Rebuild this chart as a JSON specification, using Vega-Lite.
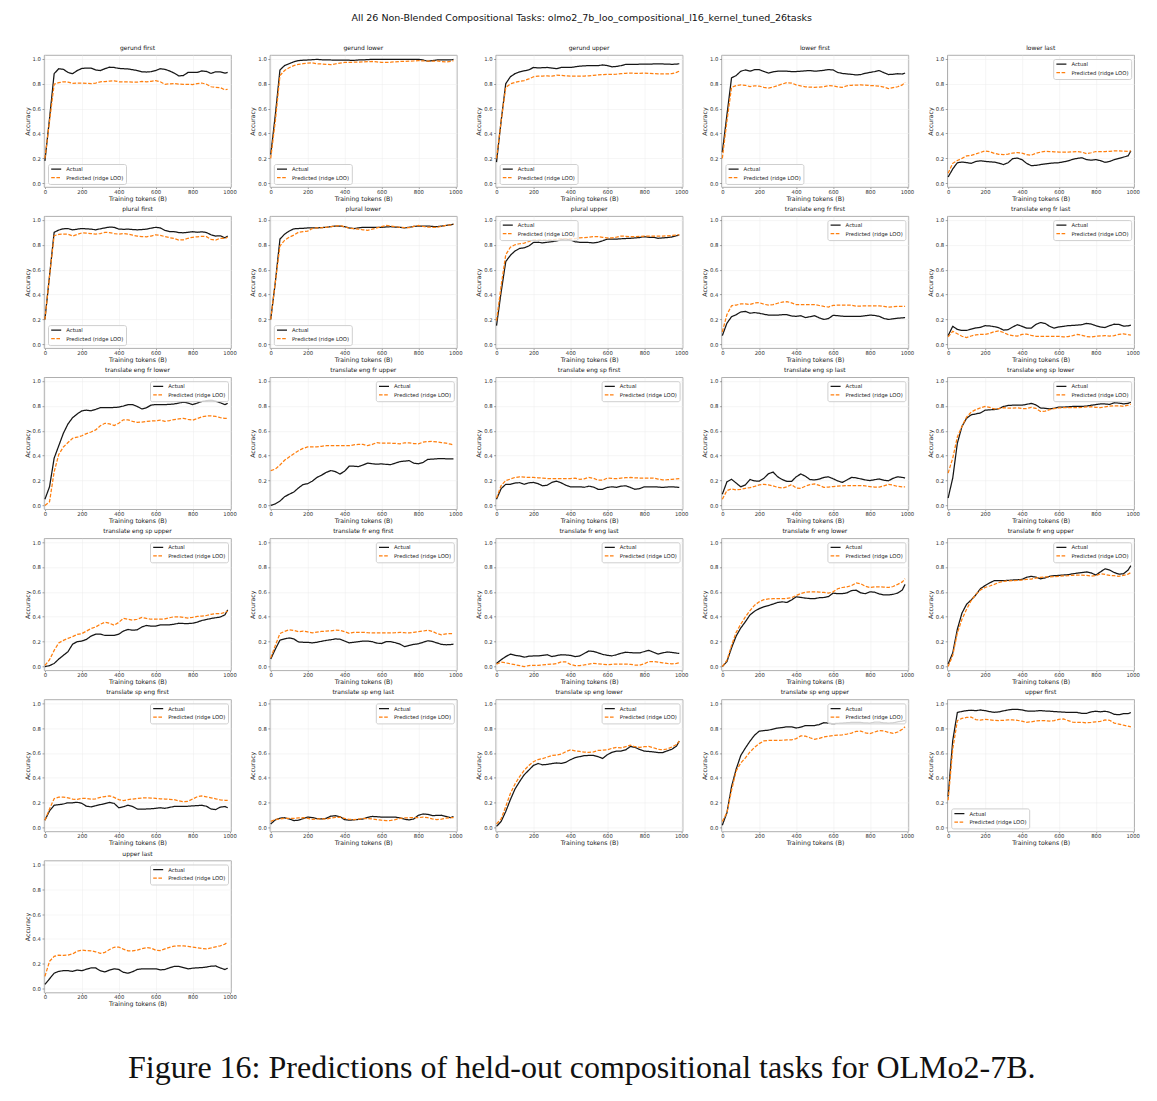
{
"$schema":"https://vega.github.io/schema/vega-lite/v6.json",
"padding":{"left":23,"top":13,"right":5,"bottom":5},
"background":"white",
"title":{"text":"Figure 16: Predictions of held-out compositional tasks for OLMo2-7B.","orient":"bottom","anchor":"middle","font":"Liberation Serif","fontSize":32,"fontWeight":"normal","color":"#111","offset":46},
"data":{"values":[
{"task":"gerund first","x":0,"a":0.18,"p":0.2},{"task":"gerund first","x":25,"a":0.52,"p":0.5},{"task":"gerund first","x":50,"a":0.88,"p":0.795},{"task":"gerund first","x":75,"a":0.92,"p":0.808},{"task":"gerund first","x":100,"a":0.915,"p":0.815},{"task":"gerund first","x":125,"a":0.89,"p":0.812},{"task":"gerund first","x":150,"a":0.88,"p":0.802},{"task":"gerund first","x":175,"a":0.905,"p":0.805},{"task":"gerund first","x":200,"a":0.922,"p":0.805},{"task":"gerund first","x":225,"a":0.925,"p":0.803},{"task":"gerund first","x":250,"a":0.925,"p":0.8},{"task":"gerund first","x":275,"a":0.91,"p":0.805},{"task":"gerund first","x":300,"a":0.905,"p":0.815},{"task":"gerund first","x":325,"a":0.92,"p":0.817},{"task":"gerund first","x":350,"a":0.932,"p":0.82},{"task":"gerund first","x":375,"a":0.93,"p":0.823},{"task":"gerund first","x":400,"a":0.922,"p":0.815},{"task":"gerund first","x":425,"a":0.92,"p":0.813},{"task":"gerund first","x":450,"a":0.918,"p":0.815},{"task":"gerund first","x":475,"a":0.912,"p":0.812},{"task":"gerund first","x":500,"a":0.905,"p":0.812},{"task":"gerund first","x":525,"a":0.895,"p":0.818},{"task":"gerund first","x":550,"a":0.893,"p":0.815},{"task":"gerund first","x":575,"a":0.896,"p":0.818},{"task":"gerund first","x":600,"a":0.905,"p":0.825},{"task":"gerund first","x":625,"a":0.92,"p":0.815},{"task":"gerund first","x":650,"a":0.915,"p":0.795},{"task":"gerund first","x":675,"a":0.902,"p":0.798},{"task":"gerund first","x":700,"a":0.885,"p":0.8},{"task":"gerund first","x":725,"a":0.862,"p":0.797},{"task":"gerund first","x":750,"a":0.865,"p":0.795},{"task":"gerund first","x":775,"a":0.89,"p":0.795},{"task":"gerund first","x":800,"a":0.89,"p":0.793},{"task":"gerund first","x":825,"a":0.89,"p":0.8},{"task":"gerund first","x":850,"a":0.902,"p":0.805},{"task":"gerund first","x":875,"a":0.898,"p":0.795},{"task":"gerund first","x":900,"a":0.882,"p":0.775},{"task":"gerund first","x":925,"a":0.895,"p":0.77},{"task":"gerund first","x":950,"a":0.895,"p":0.768},{"task":"gerund first","x":975,"a":0.885,"p":0.75},{"task":"gerund first","x":990,"a":0.89,"p":0.755},
{"task":"gerund lower","x":0,"a":0.23,"p":0.2},{"task":"gerund lower","x":25,"a":0.55,"p":0.5},{"task":"gerund lower","x":50,"a":0.91,"p":0.865},{"task":"gerund lower","x":75,"a":0.945,"p":0.905},{"task":"gerund lower","x":100,"a":0.96,"p":0.928},{"task":"gerund lower","x":125,"a":0.975,"p":0.945},{"task":"gerund lower","x":150,"a":0.985,"p":0.955},{"task":"gerund lower","x":175,"a":0.988,"p":0.96},{"task":"gerund lower","x":200,"a":0.99,"p":0.965},{"task":"gerund lower","x":225,"a":0.992,"p":0.968},{"task":"gerund lower","x":250,"a":0.995,"p":0.96},{"task":"gerund lower","x":275,"a":0.992,"p":0.958},{"task":"gerund lower","x":300,"a":0.99,"p":0.955},{"task":"gerund lower","x":325,"a":0.99,"p":0.952},{"task":"gerund lower","x":350,"a":0.988,"p":0.958},{"task":"gerund lower","x":375,"a":0.988,"p":0.965},{"task":"gerund lower","x":400,"a":0.988,"p":0.97},{"task":"gerund lower","x":425,"a":0.988,"p":0.97},{"task":"gerund lower","x":450,"a":0.987,"p":0.972},{"task":"gerund lower","x":475,"a":0.99,"p":0.973},{"task":"gerund lower","x":500,"a":0.99,"p":0.975},{"task":"gerund lower","x":525,"a":0.993,"p":0.977},{"task":"gerund lower","x":550,"a":0.995,"p":0.978},{"task":"gerund lower","x":575,"a":0.995,"p":0.975},{"task":"gerund lower","x":600,"a":0.995,"p":0.97},{"task":"gerund lower","x":625,"a":0.995,"p":0.97},{"task":"gerund lower","x":650,"a":0.995,"p":0.972},{"task":"gerund lower","x":675,"a":0.995,"p":0.975},{"task":"gerund lower","x":700,"a":0.995,"p":0.978},{"task":"gerund lower","x":725,"a":0.995,"p":0.978},{"task":"gerund lower","x":750,"a":0.995,"p":0.98},{"task":"gerund lower","x":775,"a":0.995,"p":0.982},{"task":"gerund lower","x":800,"a":0.995,"p":0.985},{"task":"gerund lower","x":825,"a":0.99,"p":0.983},{"task":"gerund lower","x":850,"a":0.98,"p":0.98},{"task":"gerund lower","x":875,"a":0.985,"p":0.98},{"task":"gerund lower","x":900,"a":0.99,"p":0.982},{"task":"gerund lower","x":925,"a":0.99,"p":0.978},{"task":"gerund lower","x":950,"a":0.99,"p":0.975},{"task":"gerund lower","x":975,"a":0.99,"p":0.978},{"task":"gerund lower","x":990,"a":0.995,"p":0.985},
{"task":"gerund upper","x":0,"a":0.17,"p":0.2},{"task":"gerund upper","x":25,"a":0.5,"p":0.5},{"task":"gerund upper","x":50,"a":0.8,"p":0.77},{"task":"gerund upper","x":75,"a":0.855,"p":0.798},{"task":"gerund upper","x":100,"a":0.88,"p":0.81},{"task":"gerund upper","x":125,"a":0.895,"p":0.818},{"task":"gerund upper","x":150,"a":0.903,"p":0.825},{"task":"gerund upper","x":175,"a":0.91,"p":0.838},{"task":"gerund upper","x":200,"a":0.93,"p":0.855},{"task":"gerund upper","x":225,"a":0.926,"p":0.86},{"task":"gerund upper","x":250,"a":0.928,"p":0.861},{"task":"gerund upper","x":275,"a":0.93,"p":0.862},{"task":"gerund upper","x":300,"a":0.925,"p":0.86},{"task":"gerund upper","x":325,"a":0.92,"p":0.868},{"task":"gerund upper","x":350,"a":0.93,"p":0.867},{"task":"gerund upper","x":375,"a":0.93,"p":0.862},{"task":"gerund upper","x":400,"a":0.93,"p":0.86},{"task":"gerund upper","x":425,"a":0.935,"p":0.86},{"task":"gerund upper","x":450,"a":0.94,"p":0.86},{"task":"gerund upper","x":475,"a":0.943,"p":0.861},{"task":"gerund upper","x":500,"a":0.945,"p":0.862},{"task":"gerund upper","x":525,"a":0.944,"p":0.866},{"task":"gerund upper","x":550,"a":0.945,"p":0.87},{"task":"gerund upper","x":575,"a":0.95,"p":0.873},{"task":"gerund upper","x":600,"a":0.945,"p":0.875},{"task":"gerund upper","x":625,"a":0.935,"p":0.875},{"task":"gerund upper","x":650,"a":0.938,"p":0.876},{"task":"gerund upper","x":675,"a":0.945,"p":0.88},{"task":"gerund upper","x":700,"a":0.955,"p":0.883},{"task":"gerund upper","x":725,"a":0.955,"p":0.885},{"task":"gerund upper","x":750,"a":0.955,"p":0.883},{"task":"gerund upper","x":775,"a":0.956,"p":0.883},{"task":"gerund upper","x":800,"a":0.956,"p":0.885},{"task":"gerund upper","x":825,"a":0.957,"p":0.883},{"task":"gerund upper","x":850,"a":0.958,"p":0.88},{"task":"gerund upper","x":875,"a":0.958,"p":0.879},{"task":"gerund upper","x":900,"a":0.958,"p":0.878},{"task":"gerund upper","x":925,"a":0.957,"p":0.879},{"task":"gerund upper","x":950,"a":0.955,"p":0.88},{"task":"gerund upper","x":975,"a":0.957,"p":0.89},{"task":"gerund upper","x":990,"a":0.96,"p":0.9},
{"task":"lower first","x":0,"a":0.25,"p":0.2},{"task":"lower first","x":25,"a":0.55,"p":0.5},{"task":"lower first","x":50,"a":0.847,"p":0.77},{"task":"lower first","x":75,"a":0.865,"p":0.784},{"task":"lower first","x":100,"a":0.9,"p":0.79},{"task":"lower first","x":125,"a":0.91,"p":0.787},{"task":"lower first","x":150,"a":0.9,"p":0.776},{"task":"lower first","x":175,"a":0.912,"p":0.783},{"task":"lower first","x":200,"a":0.912,"p":0.78},{"task":"lower first","x":225,"a":0.898,"p":0.77},{"task":"lower first","x":250,"a":0.885,"p":0.765},{"task":"lower first","x":275,"a":0.895,"p":0.772},{"task":"lower first","x":300,"a":0.9,"p":0.785},{"task":"lower first","x":325,"a":0.9,"p":0.797},{"task":"lower first","x":350,"a":0.9,"p":0.808},{"task":"lower first","x":375,"a":0.897,"p":0.805},{"task":"lower first","x":400,"a":0.897,"p":0.79},{"task":"lower first","x":425,"a":0.9,"p":0.782},{"task":"lower first","x":450,"a":0.903,"p":0.775},{"task":"lower first","x":475,"a":0.905,"p":0.772},{"task":"lower first","x":500,"a":0.9,"p":0.77},{"task":"lower first","x":525,"a":0.903,"p":0.772},{"task":"lower first","x":550,"a":0.907,"p":0.775},{"task":"lower first","x":575,"a":0.913,"p":0.784},{"task":"lower first","x":600,"a":0.91,"p":0.782},{"task":"lower first","x":625,"a":0.89,"p":0.774},{"task":"lower first","x":650,"a":0.882,"p":0.77},{"task":"lower first","x":675,"a":0.878,"p":0.783},{"task":"lower first","x":700,"a":0.875,"p":0.787},{"task":"lower first","x":725,"a":0.87,"p":0.788},{"task":"lower first","x":750,"a":0.873,"p":0.79},{"task":"lower first","x":775,"a":0.883,"p":0.788},{"task":"lower first","x":800,"a":0.89,"p":0.785},{"task":"lower first","x":825,"a":0.897,"p":0.783},{"task":"lower first","x":850,"a":0.905,"p":0.78},{"task":"lower first","x":875,"a":0.888,"p":0.772},{"task":"lower first","x":900,"a":0.873,"p":0.76},{"task":"lower first","x":925,"a":0.875,"p":0.768},{"task":"lower first","x":950,"a":0.88,"p":0.775},{"task":"lower first","x":975,"a":0.877,"p":0.79},{"task":"lower first","x":990,"a":0.885,"p":0.81},
{"task":"lower last","x":0,"a":0.05,"p":0.08},{"task":"lower last","x":25,"a":0.115,"p":0.16},{"task":"lower last","x":50,"a":0.165,"p":0.183},{"task":"lower last","x":75,"a":0.17,"p":0.2},{"task":"lower last","x":100,"a":0.166,"p":0.22},{"task":"lower last","x":125,"a":0.16,"p":0.224},{"task":"lower last","x":150,"a":0.175,"p":0.235},{"task":"lower last","x":175,"a":0.18,"p":0.248},{"task":"lower last","x":200,"a":0.176,"p":0.26},{"task":"lower last","x":225,"a":0.172,"p":0.254},{"task":"lower last","x":250,"a":0.17,"p":0.24},{"task":"lower last","x":275,"a":0.162,"p":0.232},{"task":"lower last","x":300,"a":0.15,"p":0.23},{"task":"lower last","x":325,"a":0.165,"p":0.234},{"task":"lower last","x":350,"a":0.198,"p":0.243},{"task":"lower last","x":375,"a":0.202,"p":0.246},{"task":"lower last","x":400,"a":0.19,"p":0.242},{"task":"lower last","x":425,"a":0.16,"p":0.23},{"task":"lower last","x":450,"a":0.142,"p":0.225},{"task":"lower last","x":475,"a":0.143,"p":0.24},{"task":"lower last","x":500,"a":0.15,"p":0.25},{"task":"lower last","x":525,"a":0.155,"p":0.256},{"task":"lower last","x":550,"a":0.16,"p":0.255},{"task":"lower last","x":575,"a":0.163,"p":0.253},{"task":"lower last","x":600,"a":0.165,"p":0.25},{"task":"lower last","x":625,"a":0.172,"p":0.25},{"task":"lower last","x":650,"a":0.18,"p":0.25},{"task":"lower last","x":675,"a":0.192,"p":0.253},{"task":"lower last","x":700,"a":0.2,"p":0.255},{"task":"lower last","x":725,"a":0.205,"p":0.25},{"task":"lower last","x":750,"a":0.19,"p":0.238},{"task":"lower last","x":775,"a":0.185,"p":0.245},{"task":"lower last","x":800,"a":0.19,"p":0.255},{"task":"lower last","x":825,"a":0.182,"p":0.255},{"task":"lower last","x":850,"a":0.168,"p":0.255},{"task":"lower last","x":875,"a":0.175,"p":0.256},{"task":"lower last","x":900,"a":0.19,"p":0.26},{"task":"lower last","x":925,"a":0.2,"p":0.26},{"task":"lower last","x":950,"a":0.21,"p":0.258},{"task":"lower last","x":975,"a":0.22,"p":0.255},{"task":"lower last","x":990,"a":0.26,"p":0.26},
{"task":"plural first","x":0,"a":0.2,"p":0.2},{"task":"plural first","x":25,"a":0.55,"p":0.55},{"task":"plural first","x":50,"a":0.9,"p":0.873},{"task":"plural first","x":75,"a":0.918,"p":0.883},{"task":"plural first","x":100,"a":0.928,"p":0.886},{"task":"plural first","x":125,"a":0.93,"p":0.885},{"task":"plural first","x":150,"a":0.92,"p":0.87},{"task":"plural first","x":175,"a":0.925,"p":0.882},{"task":"plural first","x":200,"a":0.93,"p":0.895},{"task":"plural first","x":225,"a":0.928,"p":0.893},{"task":"plural first","x":250,"a":0.925,"p":0.89},{"task":"plural first","x":275,"a":0.92,"p":0.885},{"task":"plural first","x":300,"a":0.928,"p":0.89},{"task":"plural first","x":325,"a":0.935,"p":0.9},{"task":"plural first","x":350,"a":0.942,"p":0.898},{"task":"plural first","x":375,"a":0.94,"p":0.89},{"task":"plural first","x":400,"a":0.926,"p":0.885},{"task":"plural first","x":425,"a":0.924,"p":0.89},{"task":"plural first","x":450,"a":0.925,"p":0.885},{"task":"plural first","x":475,"a":0.922,"p":0.877},{"task":"plural first","x":500,"a":0.92,"p":0.87},{"task":"plural first","x":525,"a":0.922,"p":0.865},{"task":"plural first","x":550,"a":0.925,"p":0.864},{"task":"plural first","x":575,"a":0.933,"p":0.87},{"task":"plural first","x":600,"a":0.94,"p":0.88},{"task":"plural first","x":625,"a":0.935,"p":0.876},{"task":"plural first","x":650,"a":0.915,"p":0.865},{"task":"plural first","x":675,"a":0.906,"p":0.857},{"task":"plural first","x":700,"a":0.905,"p":0.85},{"task":"plural first","x":725,"a":0.898,"p":0.838},{"task":"plural first","x":750,"a":0.896,"p":0.84},{"task":"plural first","x":775,"a":0.9,"p":0.852},{"task":"plural first","x":800,"a":0.905,"p":0.86},{"task":"plural first","x":825,"a":0.9,"p":0.864},{"task":"plural first","x":850,"a":0.904,"p":0.868},{"task":"plural first","x":875,"a":0.898,"p":0.865},{"task":"plural first","x":900,"a":0.88,"p":0.843},{"task":"plural first","x":925,"a":0.87,"p":0.838},{"task":"plural first","x":950,"a":0.872,"p":0.852},{"task":"plural first","x":975,"a":0.855,"p":0.85},{"task":"plural first","x":990,"a":0.87,"p":0.86},
{"task":"plural lower","x":0,"a":0.2,"p":0.2},{"task":"plural lower","x":25,"a":0.5,"p":0.5},{"task":"plural lower","x":50,"a":0.845,"p":0.79},{"task":"plural lower","x":75,"a":0.885,"p":0.835},{"task":"plural lower","x":100,"a":0.91,"p":0.86},{"task":"plural lower","x":125,"a":0.928,"p":0.877},{"task":"plural lower","x":150,"a":0.93,"p":0.9},{"task":"plural lower","x":175,"a":0.932,"p":0.905},{"task":"plural lower","x":200,"a":0.935,"p":0.91},{"task":"plural lower","x":225,"a":0.935,"p":0.93},{"task":"plural lower","x":250,"a":0.935,"p":0.935},{"task":"plural lower","x":275,"a":0.938,"p":0.937},{"task":"plural lower","x":300,"a":0.94,"p":0.94},{"task":"plural lower","x":325,"a":0.945,"p":0.945},{"task":"plural lower","x":350,"a":0.95,"p":0.95},{"task":"plural lower","x":375,"a":0.95,"p":0.955},{"task":"plural lower","x":400,"a":0.945,"p":0.945},{"task":"plural lower","x":425,"a":0.935,"p":0.932},{"task":"plural lower","x":450,"a":0.93,"p":0.93},{"task":"plural lower","x":475,"a":0.935,"p":0.925},{"task":"plural lower","x":500,"a":0.94,"p":0.92},{"task":"plural lower","x":525,"a":0.94,"p":0.916},{"task":"plural lower","x":550,"a":0.94,"p":0.925},{"task":"plural lower","x":575,"a":0.94,"p":0.935},{"task":"plural lower","x":600,"a":0.94,"p":0.945},{"task":"plural lower","x":625,"a":0.943,"p":0.955},{"task":"plural lower","x":650,"a":0.945,"p":0.95},{"task":"plural lower","x":675,"a":0.942,"p":0.946},{"task":"plural lower","x":700,"a":0.94,"p":0.94},{"task":"plural lower","x":725,"a":0.935,"p":0.937},{"task":"plural lower","x":750,"a":0.94,"p":0.937},{"task":"plural lower","x":775,"a":0.947,"p":0.947},{"task":"plural lower","x":800,"a":0.95,"p":0.955},{"task":"plural lower","x":825,"a":0.95,"p":0.947},{"task":"plural lower","x":850,"a":0.95,"p":0.942},{"task":"plural lower","x":875,"a":0.947,"p":0.94},{"task":"plural lower","x":900,"a":0.945,"p":0.94},{"task":"plural lower","x":925,"a":0.95,"p":0.947},{"task":"plural lower","x":950,"a":0.955,"p":0.955},{"task":"plural lower","x":975,"a":0.96,"p":0.96},{"task":"plural lower","x":990,"a":0.965,"p":0.965},
{"task":"plural upper","x":0,"a":0.15,"p":0.19},{"task":"plural upper","x":25,"a":0.42,"p":0.47},{"task":"plural upper","x":50,"a":0.665,"p":0.72},{"task":"plural upper","x":75,"a":0.715,"p":0.78},{"task":"plural upper","x":100,"a":0.75,"p":0.8},{"task":"plural upper","x":125,"a":0.77,"p":0.808},{"task":"plural upper","x":150,"a":0.775,"p":0.813},{"task":"plural upper","x":175,"a":0.79,"p":0.826},{"task":"plural upper","x":200,"a":0.818,"p":0.84},{"task":"plural upper","x":225,"a":0.82,"p":0.84},{"task":"plural upper","x":250,"a":0.815,"p":0.84},{"task":"plural upper","x":275,"a":0.82,"p":0.84},{"task":"plural upper","x":300,"a":0.825,"p":0.84},{"task":"plural upper","x":325,"a":0.83,"p":0.845},{"task":"plural upper","x":350,"a":0.842,"p":0.85},{"task":"plural upper","x":375,"a":0.845,"p":0.85},{"task":"plural upper","x":400,"a":0.84,"p":0.85},{"task":"plural upper","x":425,"a":0.824,"p":0.85},{"task":"plural upper","x":450,"a":0.82,"p":0.855},{"task":"plural upper","x":475,"a":0.82,"p":0.858},{"task":"plural upper","x":500,"a":0.818,"p":0.86},{"task":"plural upper","x":525,"a":0.815,"p":0.865},{"task":"plural upper","x":550,"a":0.82,"p":0.865},{"task":"plural upper","x":575,"a":0.832,"p":0.86},{"task":"plural upper","x":600,"a":0.845,"p":0.855},{"task":"plural upper","x":625,"a":0.845,"p":0.855},{"task":"plural upper","x":650,"a":0.845,"p":0.862},{"task":"plural upper","x":675,"a":0.848,"p":0.87},{"task":"plural upper","x":700,"a":0.85,"p":0.868},{"task":"plural upper","x":725,"a":0.852,"p":0.865},{"task":"plural upper","x":750,"a":0.855,"p":0.865},{"task":"plural upper","x":775,"a":0.858,"p":0.867},{"task":"plural upper","x":800,"a":0.865,"p":0.87},{"task":"plural upper","x":825,"a":0.86,"p":0.87},{"task":"plural upper","x":850,"a":0.86,"p":0.87},{"task":"plural upper","x":875,"a":0.852,"p":0.87},{"task":"plural upper","x":900,"a":0.855,"p":0.87},{"task":"plural upper","x":925,"a":0.858,"p":0.872},{"task":"plural upper","x":950,"a":0.862,"p":0.875},{"task":"plural upper","x":975,"a":0.872,"p":0.878},{"task":"plural upper","x":990,"a":0.88,"p":0.88},
{"task":"translate eng fr first","x":0,"a":0.07,"p":0.1},{"task":"translate eng fr first","x":25,"a":0.17,"p":0.24},{"task":"translate eng fr first","x":50,"a":0.222,"p":0.31},{"task":"translate eng fr first","x":75,"a":0.238,"p":0.316},{"task":"translate eng fr first","x":100,"a":0.26,"p":0.325},{"task":"translate eng fr first","x":125,"a":0.265,"p":0.325},{"task":"translate eng fr first","x":150,"a":0.25,"p":0.32},{"task":"translate eng fr first","x":175,"a":0.255,"p":0.332},{"task":"translate eng fr first","x":200,"a":0.25,"p":0.335},{"task":"translate eng fr first","x":225,"a":0.242,"p":0.322},{"task":"translate eng fr first","x":250,"a":0.235,"p":0.316},{"task":"translate eng fr first","x":275,"a":0.235,"p":0.32},{"task":"translate eng fr first","x":300,"a":0.235,"p":0.33},{"task":"translate eng fr first","x":325,"a":0.238,"p":0.34},{"task":"translate eng fr first","x":350,"a":0.238,"p":0.343},{"task":"translate eng fr first","x":375,"a":0.228,"p":0.333},{"task":"translate eng fr first","x":400,"a":0.225,"p":0.32},{"task":"translate eng fr first","x":425,"a":0.23,"p":0.32},{"task":"translate eng fr first","x":450,"a":0.215,"p":0.32},{"task":"translate eng fr first","x":475,"a":0.222,"p":0.32},{"task":"translate eng fr first","x":500,"a":0.23,"p":0.32},{"task":"translate eng fr first","x":525,"a":0.213,"p":0.312},{"task":"translate eng fr first","x":550,"a":0.2,"p":0.305},{"task":"translate eng fr first","x":575,"a":0.207,"p":0.3},{"task":"translate eng fr first","x":600,"a":0.233,"p":0.313},{"task":"translate eng fr first","x":625,"a":0.23,"p":0.315},{"task":"translate eng fr first","x":650,"a":0.226,"p":0.315},{"task":"translate eng fr first","x":675,"a":0.225,"p":0.315},{"task":"translate eng fr first","x":700,"a":0.225,"p":0.315},{"task":"translate eng fr first","x":725,"a":0.225,"p":0.307},{"task":"translate eng fr first","x":750,"a":0.225,"p":0.308},{"task":"translate eng fr first","x":775,"a":0.23,"p":0.31},{"task":"translate eng fr first","x":800,"a":0.235,"p":0.31},{"task":"translate eng fr first","x":825,"a":0.232,"p":0.31},{"task":"translate eng fr first","x":850,"a":0.225,"p":0.31},{"task":"translate eng fr first","x":875,"a":0.208,"p":0.305},{"task":"translate eng fr first","x":900,"a":0.2,"p":0.3},{"task":"translate eng fr first","x":925,"a":0.205,"p":0.302},{"task":"translate eng fr first","x":950,"a":0.21,"p":0.305},{"task":"translate eng fr first","x":975,"a":0.213,"p":0.305},{"task":"translate eng fr first","x":990,"a":0.215,"p":0.305},
{"task":"translate eng fr last","x":0,"a":0.07,"p":0.06},{"task":"translate eng fr last","x":25,"a":0.145,"p":0.105},{"task":"translate eng fr last","x":50,"a":0.12,"p":0.085},{"task":"translate eng fr last","x":75,"a":0.112,"p":0.065},{"task":"translate eng fr last","x":100,"a":0.112,"p":0.055},{"task":"translate eng fr last","x":125,"a":0.122,"p":0.067},{"task":"translate eng fr last","x":150,"a":0.132,"p":0.077},{"task":"translate eng fr last","x":175,"a":0.137,"p":0.08},{"task":"translate eng fr last","x":200,"a":0.15,"p":0.08},{"task":"translate eng fr last","x":225,"a":0.148,"p":0.088},{"task":"translate eng fr last","x":250,"a":0.142,"p":0.102},{"task":"translate eng fr last","x":275,"a":0.133,"p":0.108},{"task":"translate eng fr last","x":300,"a":0.115,"p":0.095},{"task":"translate eng fr last","x":325,"a":0.118,"p":0.078},{"task":"translate eng fr last","x":350,"a":0.14,"p":0.07},{"task":"translate eng fr last","x":375,"a":0.158,"p":0.066},{"task":"translate eng fr last","x":400,"a":0.145,"p":0.08},{"task":"translate eng fr last","x":425,"a":0.13,"p":0.082},{"task":"translate eng fr last","x":450,"a":0.13,"p":0.072},{"task":"translate eng fr last","x":475,"a":0.16,"p":0.065},{"task":"translate eng fr last","x":500,"a":0.175,"p":0.065},{"task":"translate eng fr last","x":525,"a":0.168,"p":0.065},{"task":"translate eng fr last","x":550,"a":0.145,"p":0.065},{"task":"translate eng fr last","x":575,"a":0.13,"p":0.065},{"task":"translate eng fr last","x":600,"a":0.14,"p":0.065},{"task":"translate eng fr last","x":625,"a":0.145,"p":0.06},{"task":"translate eng fr last","x":650,"a":0.15,"p":0.063},{"task":"translate eng fr last","x":675,"a":0.152,"p":0.07},{"task":"translate eng fr last","x":700,"a":0.155,"p":0.08},{"task":"translate eng fr last","x":725,"a":0.158,"p":0.073},{"task":"translate eng fr last","x":750,"a":0.168,"p":0.063},{"task":"translate eng fr last","x":775,"a":0.163,"p":0.06},{"task":"translate eng fr last","x":800,"a":0.15,"p":0.065},{"task":"translate eng fr last","x":825,"a":0.14,"p":0.068},{"task":"translate eng fr last","x":850,"a":0.135,"p":0.07},{"task":"translate eng fr last","x":875,"a":0.15,"p":0.066},{"task":"translate eng fr last","x":900,"a":0.162,"p":0.07},{"task":"translate eng fr last","x":925,"a":0.16,"p":0.08},{"task":"translate eng fr last","x":950,"a":0.147,"p":0.085},{"task":"translate eng fr last","x":975,"a":0.148,"p":0.078},{"task":"translate eng fr last","x":990,"a":0.155,"p":0.075},
{"task":"translate eng fr lower","x":0,"a":0.05,"p":0.0},{"task":"translate eng fr lower","x":25,"a":0.15,"p":0.03},{"task":"translate eng fr lower","x":50,"a":0.38,"p":0.27},{"task":"translate eng fr lower","x":75,"a":0.48,"p":0.41},{"task":"translate eng fr lower","x":100,"a":0.58,"p":0.47},{"task":"translate eng fr lower","x":125,"a":0.655,"p":0.505},{"task":"translate eng fr lower","x":150,"a":0.705,"p":0.54},{"task":"translate eng fr lower","x":175,"a":0.735,"p":0.548},{"task":"translate eng fr lower","x":200,"a":0.76,"p":0.56},{"task":"translate eng fr lower","x":225,"a":0.765,"p":0.577},{"task":"translate eng fr lower","x":250,"a":0.76,"p":0.59},{"task":"translate eng fr lower","x":275,"a":0.772,"p":0.607},{"task":"translate eng fr lower","x":300,"a":0.785,"p":0.64},{"task":"translate eng fr lower","x":325,"a":0.785,"p":0.66},{"task":"translate eng fr lower","x":350,"a":0.785,"p":0.655},{"task":"translate eng fr lower","x":375,"a":0.787,"p":0.642},{"task":"translate eng fr lower","x":400,"a":0.79,"p":0.66},{"task":"translate eng fr lower","x":425,"a":0.798,"p":0.688},{"task":"translate eng fr lower","x":450,"a":0.81,"p":0.688},{"task":"translate eng fr lower","x":475,"a":0.81,"p":0.675},{"task":"translate eng fr lower","x":500,"a":0.795,"p":0.668},{"task":"translate eng fr lower","x":525,"a":0.775,"p":0.67},{"task":"translate eng fr lower","x":550,"a":0.785,"p":0.675},{"task":"translate eng fr lower","x":575,"a":0.806,"p":0.678},{"task":"translate eng fr lower","x":600,"a":0.81,"p":0.68},{"task":"translate eng fr lower","x":625,"a":0.81,"p":0.685},{"task":"translate eng fr lower","x":650,"a":0.81,"p":0.675},{"task":"translate eng fr lower","x":675,"a":0.812,"p":0.682},{"task":"translate eng fr lower","x":700,"a":0.815,"p":0.69},{"task":"translate eng fr lower","x":725,"a":0.822,"p":0.695},{"task":"translate eng fr lower","x":750,"a":0.83,"p":0.7},{"task":"translate eng fr lower","x":775,"a":0.822,"p":0.692},{"task":"translate eng fr lower","x":800,"a":0.81,"p":0.685},{"task":"translate eng fr lower","x":825,"a":0.822,"p":0.698},{"task":"translate eng fr lower","x":850,"a":0.835,"p":0.712},{"task":"translate eng fr lower","x":875,"a":0.842,"p":0.718},{"task":"translate eng fr lower","x":900,"a":0.845,"p":0.72},{"task":"translate eng fr lower","x":925,"a":0.838,"p":0.716},{"task":"translate eng fr lower","x":950,"a":0.825,"p":0.705},{"task":"translate eng fr lower","x":975,"a":0.81,"p":0.7},{"task":"translate eng fr lower","x":990,"a":0.82,"p":0.7},
{"task":"translate eng fr upper","x":0,"a":0.0,"p":0.28},{"task":"translate eng fr upper","x":25,"a":0.013,"p":0.292},{"task":"translate eng fr upper","x":50,"a":0.035,"p":0.325},{"task":"translate eng fr upper","x":75,"a":0.07,"p":0.363},{"task":"translate eng fr upper","x":100,"a":0.09,"p":0.39},{"task":"translate eng fr upper","x":125,"a":0.108,"p":0.415},{"task":"translate eng fr upper","x":150,"a":0.14,"p":0.44},{"task":"translate eng fr upper","x":175,"a":0.168,"p":0.458},{"task":"translate eng fr upper","x":200,"a":0.175,"p":0.47},{"task":"translate eng fr upper","x":225,"a":0.195,"p":0.47},{"task":"translate eng fr upper","x":250,"a":0.225,"p":0.47},{"task":"translate eng fr upper","x":275,"a":0.243,"p":0.475},{"task":"translate eng fr upper","x":300,"a":0.265,"p":0.48},{"task":"translate eng fr upper","x":325,"a":0.28,"p":0.48},{"task":"translate eng fr upper","x":350,"a":0.272,"p":0.48},{"task":"translate eng fr upper","x":375,"a":0.252,"p":0.48},{"task":"translate eng fr upper","x":400,"a":0.275,"p":0.48},{"task":"translate eng fr upper","x":425,"a":0.315,"p":0.48},{"task":"translate eng fr upper","x":450,"a":0.315,"p":0.487},{"task":"translate eng fr upper","x":475,"a":0.312,"p":0.49},{"task":"translate eng fr upper","x":500,"a":0.325,"p":0.49},{"task":"translate eng fr upper","x":525,"a":0.34,"p":0.48},{"task":"translate eng fr upper","x":550,"a":0.335,"p":0.49},{"task":"translate eng fr upper","x":575,"a":0.331,"p":0.505},{"task":"translate eng fr upper","x":600,"a":0.334,"p":0.5},{"task":"translate eng fr upper","x":625,"a":0.33,"p":0.5},{"task":"translate eng fr upper","x":650,"a":0.328,"p":0.5},{"task":"translate eng fr upper","x":675,"a":0.34,"p":0.498},{"task":"translate eng fr upper","x":700,"a":0.352,"p":0.495},{"task":"translate eng fr upper","x":725,"a":0.356,"p":0.503},{"task":"translate eng fr upper","x":750,"a":0.36,"p":0.502},{"task":"translate eng fr upper","x":775,"a":0.34,"p":0.497},{"task":"translate eng fr upper","x":800,"a":0.335,"p":0.495},{"task":"translate eng fr upper","x":825,"a":0.345,"p":0.508},{"task":"translate eng fr upper","x":850,"a":0.37,"p":0.513},{"task":"translate eng fr upper","x":875,"a":0.372,"p":0.514},{"task":"translate eng fr upper","x":900,"a":0.375,"p":0.51},{"task":"translate eng fr upper","x":925,"a":0.376,"p":0.505},{"task":"translate eng fr upper","x":950,"a":0.375,"p":0.5},{"task":"translate eng fr upper","x":975,"a":0.374,"p":0.492},{"task":"translate eng fr upper","x":990,"a":0.375,"p":0.485},
{"task":"translate eng sp first","x":0,"a":0.05,"p":0.06},{"task":"translate eng sp first","x":25,"a":0.135,"p":0.16},{"task":"translate eng sp first","x":50,"a":0.17,"p":0.2},{"task":"translate eng sp first","x":75,"a":0.17,"p":0.212},{"task":"translate eng sp first","x":100,"a":0.18,"p":0.225},{"task":"translate eng sp first","x":125,"a":0.183,"p":0.23},{"task":"translate eng sp first","x":150,"a":0.17,"p":0.227},{"task":"translate eng sp first","x":175,"a":0.182,"p":0.225},{"task":"translate eng sp first","x":200,"a":0.185,"p":0.225},{"task":"translate eng sp first","x":225,"a":0.175,"p":0.222},{"task":"translate eng sp first","x":250,"a":0.158,"p":0.22},{"task":"translate eng sp first","x":275,"a":0.163,"p":0.216},{"task":"translate eng sp first","x":300,"a":0.185,"p":0.215},{"task":"translate eng sp first","x":325,"a":0.195,"p":0.215},{"task":"translate eng sp first","x":350,"a":0.182,"p":0.215},{"task":"translate eng sp first","x":375,"a":0.163,"p":0.215},{"task":"translate eng sp first","x":400,"a":0.15,"p":0.215},{"task":"translate eng sp first","x":425,"a":0.15,"p":0.22},{"task":"translate eng sp first","x":450,"a":0.15,"p":0.21},{"task":"translate eng sp first","x":475,"a":0.146,"p":0.214},{"task":"translate eng sp first","x":500,"a":0.155,"p":0.225},{"task":"translate eng sp first","x":525,"a":0.148,"p":0.218},{"task":"translate eng sp first","x":550,"a":0.13,"p":0.203},{"task":"translate eng sp first","x":575,"a":0.13,"p":0.203},{"task":"translate eng sp first","x":600,"a":0.145,"p":0.22},{"task":"translate eng sp first","x":625,"a":0.15,"p":0.217},{"task":"translate eng sp first","x":650,"a":0.146,"p":0.215},{"task":"translate eng sp first","x":675,"a":0.155,"p":0.22},{"task":"translate eng sp first","x":700,"a":0.158,"p":0.223},{"task":"translate eng sp first","x":725,"a":0.145,"p":0.225},{"task":"translate eng sp first","x":750,"a":0.13,"p":0.222},{"task":"translate eng sp first","x":775,"a":0.135,"p":0.22},{"task":"translate eng sp first","x":800,"a":0.15,"p":0.22},{"task":"translate eng sp first","x":825,"a":0.15,"p":0.22},{"task":"translate eng sp first","x":850,"a":0.15,"p":0.22},{"task":"translate eng sp first","x":875,"a":0.148,"p":0.212},{"task":"translate eng sp first","x":900,"a":0.145,"p":0.205},{"task":"translate eng sp first","x":925,"a":0.148,"p":0.207},{"task":"translate eng sp first","x":950,"a":0.15,"p":0.21},{"task":"translate eng sp first","x":975,"a":0.147,"p":0.213},{"task":"translate eng sp first","x":990,"a":0.145,"p":0.215},
{"task":"translate eng sp last","x":0,"a":0.09,"p":0.05},{"task":"translate eng sp last","x":25,"a":0.19,"p":0.12},{"task":"translate eng sp last","x":50,"a":0.21,"p":0.133},{"task":"translate eng sp last","x":75,"a":0.18,"p":0.125},{"task":"translate eng sp last","x":100,"a":0.15,"p":0.13},{"task":"translate eng sp last","x":125,"a":0.165,"p":0.138},{"task":"translate eng sp last","x":150,"a":0.208,"p":0.143},{"task":"translate eng sp last","x":175,"a":0.197,"p":0.153},{"task":"translate eng sp last","x":200,"a":0.195,"p":0.165},{"task":"translate eng sp last","x":225,"a":0.218,"p":0.17},{"task":"translate eng sp last","x":250,"a":0.255,"p":0.165},{"task":"translate eng sp last","x":275,"a":0.268,"p":0.157},{"task":"translate eng sp last","x":300,"a":0.23,"p":0.145},{"task":"translate eng sp last","x":325,"a":0.208,"p":0.14},{"task":"translate eng sp last","x":350,"a":0.193,"p":0.15},{"task":"translate eng sp last","x":375,"a":0.193,"p":0.168},{"task":"translate eng sp last","x":400,"a":0.23,"p":0.14},{"task":"translate eng sp last","x":425,"a":0.253,"p":0.137},{"task":"translate eng sp last","x":450,"a":0.235,"p":0.155},{"task":"translate eng sp last","x":475,"a":0.208,"p":0.168},{"task":"translate eng sp last","x":500,"a":0.205,"p":0.173},{"task":"translate eng sp last","x":525,"a":0.212,"p":0.162},{"task":"translate eng sp last","x":550,"a":0.225,"p":0.145},{"task":"translate eng sp last","x":575,"a":0.23,"p":0.148},{"task":"translate eng sp last","x":600,"a":0.215,"p":0.152},{"task":"translate eng sp last","x":625,"a":0.197,"p":0.155},{"task":"translate eng sp last","x":650,"a":0.185,"p":0.158},{"task":"translate eng sp last","x":675,"a":0.205,"p":0.16},{"task":"translate eng sp last","x":700,"a":0.225,"p":0.16},{"task":"translate eng sp last","x":725,"a":0.222,"p":0.16},{"task":"translate eng sp last","x":750,"a":0.213,"p":0.16},{"task":"translate eng sp last","x":775,"a":0.205,"p":0.157},{"task":"translate eng sp last","x":800,"a":0.2,"p":0.152},{"task":"translate eng sp last","x":825,"a":0.207,"p":0.147},{"task":"translate eng sp last","x":850,"a":0.213,"p":0.147},{"task":"translate eng sp last","x":875,"a":0.203,"p":0.158},{"task":"translate eng sp last","x":900,"a":0.198,"p":0.17},{"task":"translate eng sp last","x":925,"a":0.218,"p":0.163},{"task":"translate eng sp last","x":950,"a":0.23,"p":0.153},{"task":"translate eng sp last","x":975,"a":0.225,"p":0.15},{"task":"translate eng sp last","x":990,"a":0.22,"p":0.15},
{"task":"translate eng sp lower","x":0,"a":0.06,"p":0.26},{"task":"translate eng sp lower","x":25,"a":0.22,"p":0.38},{"task":"translate eng sp lower","x":50,"a":0.5,"p":0.55},{"task":"translate eng sp lower","x":75,"a":0.635,"p":0.635},{"task":"translate eng sp lower","x":100,"a":0.7,"p":0.71},{"task":"translate eng sp lower","x":125,"a":0.728,"p":0.75},{"task":"translate eng sp lower","x":150,"a":0.735,"p":0.77},{"task":"translate eng sp lower","x":175,"a":0.743,"p":0.783},{"task":"translate eng sp lower","x":200,"a":0.765,"p":0.795},{"task":"translate eng sp lower","x":225,"a":0.768,"p":0.788},{"task":"translate eng sp lower","x":250,"a":0.77,"p":0.775},{"task":"translate eng sp lower","x":275,"a":0.777,"p":0.778},{"task":"translate eng sp lower","x":300,"a":0.795,"p":0.785},{"task":"translate eng sp lower","x":325,"a":0.803,"p":0.782},{"task":"translate eng sp lower","x":350,"a":0.805,"p":0.781},{"task":"translate eng sp lower","x":375,"a":0.805,"p":0.785},{"task":"translate eng sp lower","x":400,"a":0.805,"p":0.778},{"task":"translate eng sp lower","x":425,"a":0.812,"p":0.778},{"task":"translate eng sp lower","x":450,"a":0.82,"p":0.788},{"task":"translate eng sp lower","x":475,"a":0.808,"p":0.78},{"task":"translate eng sp lower","x":500,"a":0.783,"p":0.755},{"task":"translate eng sp lower","x":525,"a":0.78,"p":0.757},{"task":"translate eng sp lower","x":550,"a":0.776,"p":0.77},{"task":"translate eng sp lower","x":575,"a":0.78,"p":0.778},{"task":"translate eng sp lower","x":600,"a":0.79,"p":0.783},{"task":"translate eng sp lower","x":625,"a":0.79,"p":0.785},{"task":"translate eng sp lower","x":650,"a":0.792,"p":0.785},{"task":"translate eng sp lower","x":675,"a":0.795,"p":0.785},{"task":"translate eng sp lower","x":700,"a":0.795,"p":0.785},{"task":"translate eng sp lower","x":725,"a":0.795,"p":0.788},{"task":"translate eng sp lower","x":750,"a":0.798,"p":0.792},{"task":"translate eng sp lower","x":775,"a":0.805,"p":0.793},{"task":"translate eng sp lower","x":800,"a":0.81,"p":0.788},{"task":"translate eng sp lower","x":825,"a":0.815,"p":0.785},{"task":"translate eng sp lower","x":850,"a":0.815,"p":0.792},{"task":"translate eng sp lower","x":875,"a":0.812,"p":0.797},{"task":"translate eng sp lower","x":900,"a":0.825,"p":0.8},{"task":"translate eng sp lower","x":925,"a":0.822,"p":0.8},{"task":"translate eng sp lower","x":950,"a":0.816,"p":0.796},{"task":"translate eng sp lower","x":975,"a":0.82,"p":0.805},{"task":"translate eng sp lower","x":990,"a":0.83,"p":0.815},
{"task":"translate eng sp upper","x":0,"a":0.0,"p":0.01},{"task":"translate eng sp upper","x":25,"a":0.007,"p":0.055},{"task":"translate eng sp upper","x":50,"a":0.025,"p":0.13},{"task":"translate eng sp upper","x":75,"a":0.06,"p":0.19},{"task":"translate eng sp upper","x":100,"a":0.09,"p":0.21},{"task":"translate eng sp upper","x":125,"a":0.12,"p":0.227},{"task":"translate eng sp upper","x":150,"a":0.18,"p":0.24},{"task":"translate eng sp upper","x":175,"a":0.2,"p":0.258},{"task":"translate eng sp upper","x":200,"a":0.205,"p":0.265},{"task":"translate eng sp upper","x":225,"a":0.218,"p":0.285},{"task":"translate eng sp upper","x":250,"a":0.245,"p":0.305},{"task":"translate eng sp upper","x":275,"a":0.26,"p":0.318},{"task":"translate eng sp upper","x":300,"a":0.26,"p":0.34},{"task":"translate eng sp upper","x":325,"a":0.25,"p":0.356},{"task":"translate eng sp upper","x":350,"a":0.25,"p":0.348},{"task":"translate eng sp upper","x":375,"a":0.25,"p":0.332},{"task":"translate eng sp upper","x":400,"a":0.26,"p":0.355},{"task":"translate eng sp upper","x":425,"a":0.285,"p":0.387},{"task":"translate eng sp upper","x":450,"a":0.298,"p":0.38},{"task":"translate eng sp upper","x":475,"a":0.292,"p":0.372},{"task":"translate eng sp upper","x":500,"a":0.295,"p":0.38},{"task":"translate eng sp upper","x":525,"a":0.318,"p":0.395},{"task":"translate eng sp upper","x":550,"a":0.33,"p":0.387},{"task":"translate eng sp upper","x":575,"a":0.325,"p":0.38},{"task":"translate eng sp upper","x":600,"a":0.325,"p":0.38},{"task":"translate eng sp upper","x":625,"a":0.335,"p":0.38},{"task":"translate eng sp upper","x":650,"a":0.335,"p":0.383},{"task":"translate eng sp upper","x":675,"a":0.335,"p":0.392},{"task":"translate eng sp upper","x":700,"a":0.34,"p":0.4},{"task":"translate eng sp upper","x":725,"a":0.348,"p":0.4},{"task":"translate eng sp upper","x":750,"a":0.346,"p":0.395},{"task":"translate eng sp upper","x":775,"a":0.345,"p":0.39},{"task":"translate eng sp upper","x":800,"a":0.348,"p":0.395},{"task":"translate eng sp upper","x":825,"a":0.357,"p":0.403},{"task":"translate eng sp upper","x":850,"a":0.37,"p":0.405},{"task":"translate eng sp upper","x":875,"a":0.378,"p":0.41},{"task":"translate eng sp upper","x":900,"a":0.386,"p":0.42},{"task":"translate eng sp upper","x":925,"a":0.392,"p":0.425},{"task":"translate eng sp upper","x":950,"a":0.398,"p":0.425},{"task":"translate eng sp upper","x":975,"a":0.415,"p":0.435},{"task":"translate eng sp upper","x":990,"a":0.455,"p":0.445},
{"task":"translate fr eng first","x":0,"a":0.06,"p":0.07},{"task":"translate fr eng first","x":25,"a":0.14,"p":0.17},{"task":"translate fr eng first","x":50,"a":0.212,"p":0.265},{"task":"translate fr eng first","x":75,"a":0.222,"p":0.282},{"task":"translate fr eng first","x":100,"a":0.23,"p":0.295},{"task":"translate fr eng first","x":125,"a":0.222,"p":0.29},{"task":"translate fr eng first","x":150,"a":0.198,"p":0.28},{"task":"translate fr eng first","x":175,"a":0.195,"p":0.285},{"task":"translate fr eng first","x":200,"a":0.195,"p":0.278},{"task":"translate fr eng first","x":225,"a":0.19,"p":0.27},{"task":"translate fr eng first","x":250,"a":0.195,"p":0.277},{"task":"translate fr eng first","x":275,"a":0.203,"p":0.282},{"task":"translate fr eng first","x":300,"a":0.21,"p":0.285},{"task":"translate fr eng first","x":325,"a":0.215,"p":0.287},{"task":"translate fr eng first","x":350,"a":0.222,"p":0.292},{"task":"translate fr eng first","x":375,"a":0.22,"p":0.29},{"task":"translate fr eng first","x":400,"a":0.205,"p":0.28},{"task":"translate fr eng first","x":425,"a":0.19,"p":0.267},{"task":"translate fr eng first","x":450,"a":0.195,"p":0.275},{"task":"translate fr eng first","x":475,"a":0.2,"p":0.275},{"task":"translate fr eng first","x":500,"a":0.205,"p":0.275},{"task":"translate fr eng first","x":525,"a":0.205,"p":0.272},{"task":"translate fr eng first","x":550,"a":0.2,"p":0.27},{"task":"translate fr eng first","x":575,"a":0.188,"p":0.27},{"task":"translate fr eng first","x":600,"a":0.185,"p":0.27},{"task":"translate fr eng first","x":625,"a":0.2,"p":0.27},{"task":"translate fr eng first","x":650,"a":0.2,"p":0.27},{"task":"translate fr eng first","x":675,"a":0.192,"p":0.272},{"task":"translate fr eng first","x":700,"a":0.18,"p":0.275},{"task":"translate fr eng first","x":725,"a":0.16,"p":0.272},{"task":"translate fr eng first","x":750,"a":0.17,"p":0.27},{"task":"translate fr eng first","x":775,"a":0.178,"p":0.275},{"task":"translate fr eng first","x":800,"a":0.183,"p":0.28},{"task":"translate fr eng first","x":825,"a":0.195,"p":0.285},{"task":"translate fr eng first","x":850,"a":0.207,"p":0.292},{"task":"translate fr eng first","x":875,"a":0.202,"p":0.283},{"task":"translate fr eng first","x":900,"a":0.19,"p":0.265},{"task":"translate fr eng first","x":925,"a":0.178,"p":0.255},{"task":"translate fr eng first","x":950,"a":0.175,"p":0.262},{"task":"translate fr eng first","x":975,"a":0.177,"p":0.265},{"task":"translate fr eng first","x":990,"a":0.18,"p":0.265},
{"task":"translate fr eng last","x":0,"a":0.025,"p":0.02},{"task":"translate fr eng last","x":25,"a":0.055,"p":0.035},{"task":"translate fr eng last","x":50,"a":0.08,"p":0.03},{"task":"translate fr eng last","x":75,"a":0.1,"p":0.022},{"task":"translate fr eng last","x":100,"a":0.09,"p":0.015},{"task":"translate fr eng last","x":125,"a":0.085,"p":0.008},{"task":"translate fr eng last","x":150,"a":0.075,"p":0.0},{"task":"translate fr eng last","x":175,"a":0.083,"p":0.008},{"task":"translate fr eng last","x":200,"a":0.085,"p":0.01},{"task":"translate fr eng last","x":225,"a":0.085,"p":0.01},{"task":"translate fr eng last","x":250,"a":0.09,"p":0.013},{"task":"translate fr eng last","x":275,"a":0.095,"p":0.017},{"task":"translate fr eng last","x":300,"a":0.08,"p":0.02},{"task":"translate fr eng last","x":325,"a":0.088,"p":0.023},{"task":"translate fr eng last","x":350,"a":0.095,"p":0.038},{"task":"translate fr eng last","x":375,"a":0.093,"p":0.037},{"task":"translate fr eng last","x":400,"a":0.09,"p":0.018},{"task":"translate fr eng last","x":425,"a":0.08,"p":0.007},{"task":"translate fr eng last","x":450,"a":0.085,"p":0.007},{"task":"translate fr eng last","x":475,"a":0.105,"p":0.013},{"task":"translate fr eng last","x":500,"a":0.125,"p":0.02},{"task":"translate fr eng last","x":525,"a":0.122,"p":0.025},{"task":"translate fr eng last","x":550,"a":0.11,"p":0.022},{"task":"translate fr eng last","x":575,"a":0.098,"p":0.018},{"task":"translate fr eng last","x":600,"a":0.09,"p":0.015},{"task":"translate fr eng last","x":625,"a":0.086,"p":0.018},{"task":"translate fr eng last","x":650,"a":0.095,"p":0.02},{"task":"translate fr eng last","x":675,"a":0.107,"p":0.02},{"task":"translate fr eng last","x":700,"a":0.115,"p":0.02},{"task":"translate fr eng last","x":725,"a":0.112,"p":0.018},{"task":"translate fr eng last","x":750,"a":0.11,"p":0.012},{"task":"translate fr eng last","x":775,"a":0.11,"p":0.012},{"task":"translate fr eng last","x":800,"a":0.12,"p":0.022},{"task":"translate fr eng last","x":825,"a":0.13,"p":0.04},{"task":"translate fr eng last","x":850,"a":0.115,"p":0.04},{"task":"translate fr eng last","x":875,"a":0.1,"p":0.036},{"task":"translate fr eng last","x":900,"a":0.11,"p":0.03},{"task":"translate fr eng last","x":925,"a":0.117,"p":0.025},{"task":"translate fr eng last","x":950,"a":0.113,"p":0.022},{"task":"translate fr eng last","x":975,"a":0.108,"p":0.025},{"task":"translate fr eng last","x":990,"a":0.105,"p":0.03},
{"task":"translate fr eng lower","x":0,"a":0.0,"p":0.0},{"task":"translate fr eng lower","x":25,"a":0.04,"p":0.05},{"task":"translate fr eng lower","x":50,"a":0.15,"p":0.17},{"task":"translate fr eng lower","x":75,"a":0.245,"p":0.275},{"task":"translate fr eng lower","x":100,"a":0.31,"p":0.34},{"task":"translate fr eng lower","x":125,"a":0.36,"p":0.4},{"task":"translate fr eng lower","x":150,"a":0.415,"p":0.45},{"task":"translate fr eng lower","x":175,"a":0.445,"p":0.493},{"task":"translate fr eng lower","x":200,"a":0.465,"p":0.52},{"task":"translate fr eng lower","x":225,"a":0.48,"p":0.537},{"task":"translate fr eng lower","x":250,"a":0.49,"p":0.543},{"task":"translate fr eng lower","x":275,"a":0.502,"p":0.545},{"task":"translate fr eng lower","x":300,"a":0.515,"p":0.545},{"task":"translate fr eng lower","x":325,"a":0.52,"p":0.545},{"task":"translate fr eng lower","x":350,"a":0.515,"p":0.547},{"task":"translate fr eng lower","x":375,"a":0.535,"p":0.553},{"task":"translate fr eng lower","x":400,"a":0.56,"p":0.57},{"task":"translate fr eng lower","x":425,"a":0.555,"p":0.587},{"task":"translate fr eng lower","x":450,"a":0.55,"p":0.597},{"task":"translate fr eng lower","x":475,"a":0.546,"p":0.6},{"task":"translate fr eng lower","x":500,"a":0.545,"p":0.6},{"task":"translate fr eng lower","x":525,"a":0.553,"p":0.598},{"task":"translate fr eng lower","x":550,"a":0.555,"p":0.595},{"task":"translate fr eng lower","x":575,"a":0.562,"p":0.59},{"task":"translate fr eng lower","x":600,"a":0.59,"p":0.6},{"task":"translate fr eng lower","x":625,"a":0.585,"p":0.625},{"task":"translate fr eng lower","x":650,"a":0.585,"p":0.635},{"task":"translate fr eng lower","x":675,"a":0.592,"p":0.64},{"task":"translate fr eng lower","x":700,"a":0.61,"p":0.65},{"task":"translate fr eng lower","x":725,"a":0.613,"p":0.672},{"task":"translate fr eng lower","x":750,"a":0.592,"p":0.665},{"task":"translate fr eng lower","x":775,"a":0.585,"p":0.645},{"task":"translate fr eng lower","x":800,"a":0.6,"p":0.635},{"task":"translate fr eng lower","x":825,"a":0.597,"p":0.64},{"task":"translate fr eng lower","x":850,"a":0.583,"p":0.64},{"task":"translate fr eng lower","x":875,"a":0.575,"p":0.638},{"task":"translate fr eng lower","x":900,"a":0.575,"p":0.635},{"task":"translate fr eng lower","x":925,"a":0.58,"p":0.643},{"task":"translate fr eng lower","x":950,"a":0.59,"p":0.66},{"task":"translate fr eng lower","x":975,"a":0.615,"p":0.68},{"task":"translate fr eng lower","x":990,"a":0.66,"p":0.705},
{"task":"translate fr eng upper","x":0,"a":0.02,"p":0.0},{"task":"translate fr eng upper","x":25,"a":0.11,"p":0.09},{"task":"translate fr eng upper","x":50,"a":0.3,"p":0.27},{"task":"translate fr eng upper","x":75,"a":0.43,"p":0.38},{"task":"translate fr eng upper","x":100,"a":0.5,"p":0.46},{"task":"translate fr eng upper","x":125,"a":0.535,"p":0.53},{"task":"translate fr eng upper","x":150,"a":0.575,"p":0.58},{"task":"translate fr eng upper","x":175,"a":0.625,"p":0.615},{"task":"translate fr eng upper","x":200,"a":0.65,"p":0.635},{"task":"translate fr eng upper","x":225,"a":0.672,"p":0.647},{"task":"translate fr eng upper","x":250,"a":0.69,"p":0.66},{"task":"translate fr eng upper","x":275,"a":0.69,"p":0.675},{"task":"translate fr eng upper","x":300,"a":0.69,"p":0.685},{"task":"translate fr eng upper","x":325,"a":0.692,"p":0.688},{"task":"translate fr eng upper","x":350,"a":0.695,"p":0.69},{"task":"translate fr eng upper","x":375,"a":0.697,"p":0.692},{"task":"translate fr eng upper","x":400,"a":0.7,"p":0.695},{"task":"translate fr eng upper","x":425,"a":0.717,"p":0.7},{"task":"translate fr eng upper","x":450,"a":0.725,"p":0.703},{"task":"translate fr eng upper","x":475,"a":0.718,"p":0.71},{"task":"translate fr eng upper","x":500,"a":0.705,"p":0.717},{"task":"translate fr eng upper","x":525,"a":0.712,"p":0.72},{"task":"translate fr eng upper","x":550,"a":0.725,"p":0.72},{"task":"translate fr eng upper","x":575,"a":0.73,"p":0.722},{"task":"translate fr eng upper","x":600,"a":0.732,"p":0.725},{"task":"translate fr eng upper","x":625,"a":0.735,"p":0.728},{"task":"translate fr eng upper","x":650,"a":0.738,"p":0.73},{"task":"translate fr eng upper","x":675,"a":0.745,"p":0.733},{"task":"translate fr eng upper","x":700,"a":0.75,"p":0.735},{"task":"translate fr eng upper","x":725,"a":0.755,"p":0.735},{"task":"translate fr eng upper","x":750,"a":0.76,"p":0.732},{"task":"translate fr eng upper","x":775,"a":0.752,"p":0.726},{"task":"translate fr eng upper","x":800,"a":0.735,"p":0.73},{"task":"translate fr eng upper","x":825,"a":0.76,"p":0.745},{"task":"translate fr eng upper","x":850,"a":0.785,"p":0.74},{"task":"translate fr eng upper","x":875,"a":0.775,"p":0.732},{"task":"translate fr eng upper","x":900,"a":0.755,"p":0.73},{"task":"translate fr eng upper","x":925,"a":0.742,"p":0.725},{"task":"translate fr eng upper","x":950,"a":0.745,"p":0.732},{"task":"translate fr eng upper","x":975,"a":0.775,"p":0.742},{"task":"translate fr eng upper","x":990,"a":0.81,"p":0.755},
{"task":"translate sp eng first","x":0,"a":0.06,"p":0.06},{"task":"translate sp eng first","x":25,"a":0.135,"p":0.15},{"task":"translate sp eng first","x":50,"a":0.18,"p":0.233},{"task":"translate sp eng first","x":75,"a":0.185,"p":0.245},{"task":"translate sp eng first","x":100,"a":0.19,"p":0.245},{"task":"translate sp eng first","x":125,"a":0.2,"p":0.24},{"task":"translate sp eng first","x":150,"a":0.2,"p":0.23},{"task":"translate sp eng first","x":175,"a":0.204,"p":0.227},{"task":"translate sp eng first","x":200,"a":0.195,"p":0.235},{"task":"translate sp eng first","x":225,"a":0.172,"p":0.235},{"task":"translate sp eng first","x":250,"a":0.167,"p":0.228},{"task":"translate sp eng first","x":275,"a":0.176,"p":0.232},{"task":"translate sp eng first","x":300,"a":0.185,"p":0.243},{"task":"translate sp eng first","x":325,"a":0.193,"p":0.25},{"task":"translate sp eng first","x":350,"a":0.203,"p":0.255},{"task":"translate sp eng first","x":375,"a":0.195,"p":0.243},{"task":"translate sp eng first","x":400,"a":0.16,"p":0.225},{"task":"translate sp eng first","x":425,"a":0.168,"p":0.217},{"task":"translate sp eng first","x":450,"a":0.18,"p":0.225},{"task":"translate sp eng first","x":475,"a":0.17,"p":0.23},{"task":"translate sp eng first","x":500,"a":0.15,"p":0.235},{"task":"translate sp eng first","x":525,"a":0.148,"p":0.238},{"task":"translate sp eng first","x":550,"a":0.15,"p":0.24},{"task":"translate sp eng first","x":575,"a":0.152,"p":0.238},{"task":"translate sp eng first","x":600,"a":0.155,"p":0.235},{"task":"translate sp eng first","x":625,"a":0.16,"p":0.232},{"task":"translate sp eng first","x":650,"a":0.155,"p":0.23},{"task":"translate sp eng first","x":675,"a":0.163,"p":0.228},{"task":"translate sp eng first","x":700,"a":0.17,"p":0.225},{"task":"translate sp eng first","x":725,"a":0.17,"p":0.215},{"task":"translate sp eng first","x":750,"a":0.17,"p":0.208},{"task":"translate sp eng first","x":775,"a":0.172,"p":0.212},{"task":"translate sp eng first","x":800,"a":0.175,"p":0.23},{"task":"translate sp eng first","x":825,"a":0.177,"p":0.248},{"task":"translate sp eng first","x":850,"a":0.18,"p":0.255},{"task":"translate sp eng first","x":875,"a":0.172,"p":0.248},{"task":"translate sp eng first","x":900,"a":0.15,"p":0.24},{"task":"translate sp eng first","x":925,"a":0.145,"p":0.232},{"task":"translate sp eng first","x":950,"a":0.165,"p":0.223},{"task":"translate sp eng first","x":975,"a":0.17,"p":0.22},{"task":"translate sp eng first","x":990,"a":0.16,"p":0.22},
{"task":"translate sp eng last","x":0,"a":0.03,"p":0.05},{"task":"translate sp eng last","x":25,"a":0.063,"p":0.066},{"task":"translate sp eng last","x":50,"a":0.076,"p":0.07},{"task":"translate sp eng last","x":75,"a":0.08,"p":0.075},{"task":"translate sp eng last","x":100,"a":0.07,"p":0.075},{"task":"translate sp eng last","x":125,"a":0.057,"p":0.075},{"task":"translate sp eng last","x":150,"a":0.06,"p":0.078},{"task":"translate sp eng last","x":175,"a":0.072,"p":0.08},{"task":"translate sp eng last","x":200,"a":0.085,"p":0.075},{"task":"translate sp eng last","x":225,"a":0.081,"p":0.066},{"task":"translate sp eng last","x":250,"a":0.073,"p":0.07},{"task":"translate sp eng last","x":275,"a":0.07,"p":0.07},{"task":"translate sp eng last","x":300,"a":0.075,"p":0.07},{"task":"translate sp eng last","x":325,"a":0.092,"p":0.076},{"task":"translate sp eng last","x":350,"a":0.096,"p":0.082},{"task":"translate sp eng last","x":375,"a":0.088,"p":0.085},{"task":"translate sp eng last","x":400,"a":0.065,"p":0.075},{"task":"translate sp eng last","x":425,"a":0.06,"p":0.067},{"task":"translate sp eng last","x":450,"a":0.063,"p":0.065},{"task":"translate sp eng last","x":475,"a":0.066,"p":0.068},{"task":"translate sp eng last","x":500,"a":0.07,"p":0.075},{"task":"translate sp eng last","x":525,"a":0.083,"p":0.073},{"task":"translate sp eng last","x":550,"a":0.09,"p":0.07},{"task":"translate sp eng last","x":575,"a":0.088,"p":0.065},{"task":"translate sp eng last","x":600,"a":0.085,"p":0.06},{"task":"translate sp eng last","x":625,"a":0.085,"p":0.056},{"task":"translate sp eng last","x":650,"a":0.085,"p":0.058},{"task":"translate sp eng last","x":675,"a":0.085,"p":0.065},{"task":"translate sp eng last","x":700,"a":0.078,"p":0.075},{"task":"translate sp eng last","x":725,"a":0.068,"p":0.078},{"task":"translate sp eng last","x":750,"a":0.062,"p":0.08},{"task":"translate sp eng last","x":775,"a":0.07,"p":0.08},{"task":"translate sp eng last","x":800,"a":0.1,"p":0.08},{"task":"translate sp eng last","x":825,"a":0.11,"p":0.085},{"task":"translate sp eng last","x":850,"a":0.107,"p":0.08},{"task":"translate sp eng last","x":875,"a":0.097,"p":0.07},{"task":"translate sp eng last","x":900,"a":0.098,"p":0.065},{"task":"translate sp eng last","x":925,"a":0.1,"p":0.068},{"task":"translate sp eng last","x":950,"a":0.09,"p":0.077},{"task":"translate sp eng last","x":975,"a":0.08,"p":0.08},{"task":"translate sp eng last","x":990,"a":0.09,"p":0.08},
{"task":"translate sp eng lower","x":0,"a":0.01,"p":0.03},{"task":"translate sp eng lower","x":25,"a":0.05,"p":0.07},{"task":"translate sp eng lower","x":50,"a":0.13,"p":0.17},{"task":"translate sp eng lower","x":75,"a":0.225,"p":0.275},{"task":"translate sp eng lower","x":100,"a":0.31,"p":0.35},{"task":"translate sp eng lower","x":125,"a":0.37,"p":0.41},{"task":"translate sp eng lower","x":150,"a":0.425,"p":0.46},{"task":"translate sp eng lower","x":175,"a":0.462,"p":0.5},{"task":"translate sp eng lower","x":200,"a":0.5,"p":0.53},{"task":"translate sp eng lower","x":225,"a":0.515,"p":0.547},{"task":"translate sp eng lower","x":250,"a":0.505,"p":0.555},{"task":"translate sp eng lower","x":275,"a":0.508,"p":0.567},{"task":"translate sp eng lower","x":300,"a":0.515,"p":0.58},{"task":"translate sp eng lower","x":325,"a":0.52,"p":0.584},{"task":"translate sp eng lower","x":350,"a":0.516,"p":0.59},{"task":"translate sp eng lower","x":375,"a":0.525,"p":0.61},{"task":"translate sp eng lower","x":400,"a":0.545,"p":0.625},{"task":"translate sp eng lower","x":425,"a":0.562,"p":0.617},{"task":"translate sp eng lower","x":450,"a":0.57,"p":0.612},{"task":"translate sp eng lower","x":475,"a":0.578,"p":0.607},{"task":"translate sp eng lower","x":500,"a":0.58,"p":0.605},{"task":"translate sp eng lower","x":525,"a":0.58,"p":0.608},{"task":"translate sp eng lower","x":550,"a":0.57,"p":0.62},{"task":"translate sp eng lower","x":575,"a":0.556,"p":0.622},{"task":"translate sp eng lower","x":600,"a":0.585,"p":0.625},{"task":"translate sp eng lower","x":625,"a":0.605,"p":0.637},{"task":"translate sp eng lower","x":650,"a":0.615,"p":0.645},{"task":"translate sp eng lower","x":675,"a":0.615,"p":0.641},{"task":"translate sp eng lower","x":700,"a":0.625,"p":0.65},{"task":"translate sp eng lower","x":725,"a":0.652,"p":0.663},{"task":"translate sp eng lower","x":750,"a":0.645,"p":0.65},{"task":"translate sp eng lower","x":775,"a":0.628,"p":0.645},{"task":"translate sp eng lower","x":800,"a":0.615,"p":0.65},{"task":"translate sp eng lower","x":825,"a":0.612,"p":0.652},{"task":"translate sp eng lower","x":850,"a":0.608,"p":0.642},{"task":"translate sp eng lower","x":875,"a":0.603,"p":0.63},{"task":"translate sp eng lower","x":900,"a":0.603,"p":0.625},{"task":"translate sp eng lower","x":925,"a":0.617,"p":0.632},{"task":"translate sp eng lower","x":950,"a":0.63,"p":0.648},{"task":"translate sp eng lower","x":975,"a":0.655,"p":0.668},{"task":"translate sp eng lower","x":990,"a":0.695,"p":0.695},
{"task":"translate sp eng upper","x":0,"a":0.02,"p":0.05},{"task":"translate sp eng upper","x":25,"a":0.12,"p":0.12},{"task":"translate sp eng upper","x":50,"a":0.33,"p":0.3},{"task":"translate sp eng upper","x":75,"a":0.47,"p":0.455},{"task":"translate sp eng upper","x":100,"a":0.58,"p":0.52},{"task":"translate sp eng upper","x":125,"a":0.64,"p":0.56},{"task":"translate sp eng upper","x":150,"a":0.695,"p":0.608},{"task":"translate sp eng upper","x":175,"a":0.743,"p":0.645},{"task":"translate sp eng upper","x":200,"a":0.775,"p":0.675},{"task":"translate sp eng upper","x":225,"a":0.78,"p":0.697},{"task":"translate sp eng upper","x":250,"a":0.783,"p":0.7},{"task":"translate sp eng upper","x":275,"a":0.792,"p":0.7},{"task":"translate sp eng upper","x":300,"a":0.8,"p":0.7},{"task":"translate sp eng upper","x":325,"a":0.804,"p":0.702},{"task":"translate sp eng upper","x":350,"a":0.81,"p":0.705},{"task":"translate sp eng upper","x":375,"a":0.81,"p":0.705},{"task":"translate sp eng upper","x":400,"a":0.8,"p":0.715},{"task":"translate sp eng upper","x":425,"a":0.807,"p":0.737},{"task":"translate sp eng upper","x":450,"a":0.82,"p":0.735},{"task":"translate sp eng upper","x":475,"a":0.82,"p":0.722},{"task":"translate sp eng upper","x":500,"a":0.82,"p":0.71},{"task":"translate sp eng upper","x":525,"a":0.828,"p":0.717},{"task":"translate sp eng upper","x":550,"a":0.843,"p":0.728},{"task":"translate sp eng upper","x":575,"a":0.84,"p":0.735},{"task":"translate sp eng upper","x":600,"a":0.835,"p":0.74},{"task":"translate sp eng upper","x":625,"a":0.838,"p":0.743},{"task":"translate sp eng upper","x":650,"a":0.84,"p":0.745},{"task":"translate sp eng upper","x":675,"a":0.843,"p":0.752},{"task":"translate sp eng upper","x":700,"a":0.845,"p":0.76},{"task":"translate sp eng upper","x":725,"a":0.845,"p":0.773},{"task":"translate sp eng upper","x":750,"a":0.845,"p":0.775},{"task":"translate sp eng upper","x":775,"a":0.841,"p":0.762},{"task":"translate sp eng upper","x":800,"a":0.84,"p":0.755},{"task":"translate sp eng upper","x":825,"a":0.848,"p":0.768},{"task":"translate sp eng upper","x":850,"a":0.847,"p":0.78},{"task":"translate sp eng upper","x":875,"a":0.842,"p":0.777},{"task":"translate sp eng upper","x":900,"a":0.84,"p":0.765},{"task":"translate sp eng upper","x":925,"a":0.842,"p":0.757},{"task":"translate sp eng upper","x":950,"a":0.85,"p":0.768},{"task":"translate sp eng upper","x":975,"a":0.855,"p":0.79},{"task":"translate sp eng upper","x":990,"a":0.86,"p":0.81},
{"task":"upper first","x":0,"a":0.25,"p":0.22},{"task":"upper first","x":25,"a":0.7,"p":0.63},{"task":"upper first","x":50,"a":0.925,"p":0.86},{"task":"upper first","x":75,"a":0.933,"p":0.878},{"task":"upper first","x":100,"a":0.94,"p":0.885},{"task":"upper first","x":125,"a":0.943,"p":0.888},{"task":"upper first","x":150,"a":0.94,"p":0.868},{"task":"upper first","x":175,"a":0.945,"p":0.863},{"task":"upper first","x":200,"a":0.94,"p":0.87},{"task":"upper first","x":225,"a":0.932,"p":0.866},{"task":"upper first","x":250,"a":0.926,"p":0.862},{"task":"upper first","x":275,"a":0.93,"p":0.86},{"task":"upper first","x":300,"a":0.938,"p":0.862},{"task":"upper first","x":325,"a":0.945,"p":0.865},{"task":"upper first","x":350,"a":0.95,"p":0.865},{"task":"upper first","x":375,"a":0.95,"p":0.862},{"task":"upper first","x":400,"a":0.945,"p":0.855},{"task":"upper first","x":425,"a":0.937,"p":0.846},{"task":"upper first","x":450,"a":0.935,"p":0.85},{"task":"upper first","x":475,"a":0.937,"p":0.858},{"task":"upper first","x":500,"a":0.94,"p":0.86},{"task":"upper first","x":525,"a":0.937,"p":0.86},{"task":"upper first","x":550,"a":0.935,"p":0.856},{"task":"upper first","x":575,"a":0.932,"p":0.86},{"task":"upper first","x":600,"a":0.93,"p":0.87},{"task":"upper first","x":625,"a":0.928,"p":0.873},{"task":"upper first","x":650,"a":0.925,"p":0.86},{"task":"upper first","x":675,"a":0.925,"p":0.847},{"task":"upper first","x":700,"a":0.925,"p":0.845},{"task":"upper first","x":725,"a":0.917,"p":0.845},{"task":"upper first","x":750,"a":0.918,"p":0.842},{"task":"upper first","x":775,"a":0.93,"p":0.845},{"task":"upper first","x":800,"a":0.935,"p":0.85},{"task":"upper first","x":825,"a":0.93,"p":0.854},{"task":"upper first","x":850,"a":0.935,"p":0.865},{"task":"upper first","x":875,"a":0.927,"p":0.862},{"task":"upper first","x":900,"a":0.91,"p":0.84},{"task":"upper first","x":925,"a":0.907,"p":0.832},{"task":"upper first","x":950,"a":0.915,"p":0.823},{"task":"upper first","x":975,"a":0.915,"p":0.815},{"task":"upper first","x":990,"a":0.925,"p":0.81},
{"task":"upper last","x":0,"a":0.035,"p":0.1},{"task":"upper last","x":25,"a":0.08,"p":0.22},{"task":"upper last","x":50,"a":0.125,"p":0.26},{"task":"upper last","x":75,"a":0.14,"p":0.27},{"task":"upper last","x":100,"a":0.145,"p":0.268},{"task":"upper last","x":125,"a":0.145,"p":0.27},{"task":"upper last","x":150,"a":0.14,"p":0.28},{"task":"upper last","x":175,"a":0.15,"p":0.302},{"task":"upper last","x":200,"a":0.145,"p":0.31},{"task":"upper last","x":225,"a":0.157,"p":0.306},{"task":"upper last","x":250,"a":0.168,"p":0.305},{"task":"upper last","x":275,"a":0.167,"p":0.297},{"task":"upper last","x":300,"a":0.145,"p":0.285},{"task":"upper last","x":325,"a":0.135,"p":0.292},{"task":"upper last","x":350,"a":0.15,"p":0.315},{"task":"upper last","x":375,"a":0.16,"p":0.333},{"task":"upper last","x":400,"a":0.155,"p":0.335},{"task":"upper last","x":425,"a":0.132,"p":0.318},{"task":"upper last","x":450,"a":0.125,"p":0.305},{"task":"upper last","x":475,"a":0.137,"p":0.305},{"task":"upper last","x":500,"a":0.155,"p":0.31},{"task":"upper last","x":525,"a":0.16,"p":0.322},{"task":"upper last","x":550,"a":0.16,"p":0.33},{"task":"upper last","x":575,"a":0.16,"p":0.327},{"task":"upper last","x":600,"a":0.16,"p":0.31},{"task":"upper last","x":625,"a":0.152,"p":0.307},{"task":"upper last","x":650,"a":0.155,"p":0.32},{"task":"upper last","x":675,"a":0.168,"p":0.333},{"task":"upper last","x":700,"a":0.18,"p":0.342},{"task":"upper last","x":725,"a":0.18,"p":0.345},{"task":"upper last","x":750,"a":0.17,"p":0.344},{"task":"upper last","x":775,"a":0.16,"p":0.34},{"task":"upper last","x":800,"a":0.165,"p":0.335},{"task":"upper last","x":825,"a":0.168,"p":0.33},{"task":"upper last","x":850,"a":0.17,"p":0.323},{"task":"upper last","x":875,"a":0.174,"p":0.32},{"task":"upper last","x":900,"a":0.182,"p":0.328},{"task":"upper last","x":925,"a":0.183,"p":0.337},{"task":"upper last","x":950,"a":0.167,"p":0.345},{"task":"upper last","x":975,"a":0.155,"p":0.358},{"task":"upper last","x":990,"a":0.165,"p":0.375}
]},
"vconcat":[{
"title":{"text":"All 26 Non-Blended Compositional Tasks: olmo2_7b_loo_compositional_l16_kernel_tuned_26tasks","fontSize":9.5,"color":"#111","offset":22,"anchor":"middle"},
"columns":5,
"spacing":{"column":38.8,"row":29.1},
"bounds":"flush",
"resolve":{"scale":{"color":"independent","strokeDash":"independent"}},
"concat":[
{"title":"gerund first","transform":[{"filter":"datum.task=='gerund first'"},{"fold":["a","p"],"as":["series","acc"]}],"mark":"line","encoding":{"x":{"field":"x","type":"quantitative","scale":{"domain":[-5,1008]},"axis":{"format":"d"},"title":"Training tokens (B)"},"y":{"field":"acc","type":"quantitative","scale":{"domain":[-0.03,1.03]},"axis":{"format":".1f","tickCount":6},"title":"Accuracy"},"color":{"field":"series","type":"nominal","title":null,"scale":{"domain":["a","p"],"range":["#161616","#ff7f0e"]},"legend":{"orient":"bottom-left","labelExpr":"datum.value == 'a' ? 'Actual' : 'Predicted (ridge LOO)'"}},"strokeDash":{"field":"series","type":"nominal","title":null,"scale":{"domain":["a","p"],"range":[[1,0],[3.6,1.6]]}}}},
{"title":"gerund lower","transform":[{"filter":"datum.task=='gerund lower'"},{"fold":["a","p"],"as":["series","acc"]}],"mark":"line","encoding":{"x":{"field":"x","type":"quantitative","scale":{"domain":[-5,1008]},"axis":{"format":"d"},"title":"Training tokens (B)"},"y":{"field":"acc","type":"quantitative","scale":{"domain":[-0.03,1.03]},"axis":{"format":".1f","tickCount":6},"title":"Accuracy"},"color":{"field":"series","type":"nominal","title":null,"scale":{"domain":["a","p"],"range":["#161616","#ff7f0e"]},"legend":{"orient":"bottom-left","labelExpr":"datum.value == 'a' ? 'Actual' : 'Predicted (ridge LOO)'"}},"strokeDash":{"field":"series","type":"nominal","title":null,"scale":{"domain":["a","p"],"range":[[1,0],[3.6,1.6]]}}}},
{"title":"gerund upper","transform":[{"filter":"datum.task=='gerund upper'"},{"fold":["a","p"],"as":["series","acc"]}],"mark":"line","encoding":{"x":{"field":"x","type":"quantitative","scale":{"domain":[-5,1008]},"axis":{"format":"d"},"title":"Training tokens (B)"},"y":{"field":"acc","type":"quantitative","scale":{"domain":[-0.03,1.03]},"axis":{"format":".1f","tickCount":6},"title":"Accuracy"},"color":{"field":"series","type":"nominal","title":null,"scale":{"domain":["a","p"],"range":["#161616","#ff7f0e"]},"legend":{"orient":"bottom-left","labelExpr":"datum.value == 'a' ? 'Actual' : 'Predicted (ridge LOO)'"}},"strokeDash":{"field":"series","type":"nominal","title":null,"scale":{"domain":["a","p"],"range":[[1,0],[3.6,1.6]]}}}},
{"title":"lower first","transform":[{"filter":"datum.task=='lower first'"},{"fold":["a","p"],"as":["series","acc"]}],"mark":"line","encoding":{"x":{"field":"x","type":"quantitative","scale":{"domain":[-5,1008]},"axis":{"format":"d"},"title":"Training tokens (B)"},"y":{"field":"acc","type":"quantitative","scale":{"domain":[-0.03,1.03]},"axis":{"format":".1f","tickCount":6},"title":"Accuracy"},"color":{"field":"series","type":"nominal","title":null,"scale":{"domain":["a","p"],"range":["#161616","#ff7f0e"]},"legend":{"orient":"bottom-left","labelExpr":"datum.value == 'a' ? 'Actual' : 'Predicted (ridge LOO)'"}},"strokeDash":{"field":"series","type":"nominal","title":null,"scale":{"domain":["a","p"],"range":[[1,0],[3.6,1.6]]}}}},
{"title":"lower last","transform":[{"filter":"datum.task=='lower last'"},{"fold":["a","p"],"as":["series","acc"]}],"mark":"line","encoding":{"x":{"field":"x","type":"quantitative","scale":{"domain":[-5,1008]},"axis":{"format":"d"},"title":"Training tokens (B)"},"y":{"field":"acc","type":"quantitative","scale":{"domain":[-0.03,1.03]},"axis":{"format":".1f","tickCount":6},"title":"Accuracy"},"color":{"field":"series","type":"nominal","title":null,"scale":{"domain":["a","p"],"range":["#161616","#ff7f0e"]},"legend":{"orient":"top-right","labelExpr":"datum.value == 'a' ? 'Actual' : 'Predicted (ridge LOO)'"}},"strokeDash":{"field":"series","type":"nominal","title":null,"scale":{"domain":["a","p"],"range":[[1,0],[3.6,1.6]]}}}},
{"title":"plural first","transform":[{"filter":"datum.task=='plural first'"},{"fold":["a","p"],"as":["series","acc"]}],"mark":"line","encoding":{"x":{"field":"x","type":"quantitative","scale":{"domain":[-5,1008]},"axis":{"format":"d"},"title":"Training tokens (B)"},"y":{"field":"acc","type":"quantitative","scale":{"domain":[-0.03,1.03]},"axis":{"format":".1f","tickCount":6},"title":"Accuracy"},"color":{"field":"series","type":"nominal","title":null,"scale":{"domain":["a","p"],"range":["#161616","#ff7f0e"]},"legend":{"orient":"bottom-left","labelExpr":"datum.value == 'a' ? 'Actual' : 'Predicted (ridge LOO)'"}},"strokeDash":{"field":"series","type":"nominal","title":null,"scale":{"domain":["a","p"],"range":[[1,0],[3.6,1.6]]}}}},
{"title":"plural lower","transform":[{"filter":"datum.task=='plural lower'"},{"fold":["a","p"],"as":["series","acc"]}],"mark":"line","encoding":{"x":{"field":"x","type":"quantitative","scale":{"domain":[-5,1008]},"axis":{"format":"d"},"title":"Training tokens (B)"},"y":{"field":"acc","type":"quantitative","scale":{"domain":[-0.03,1.03]},"axis":{"format":".1f","tickCount":6},"title":"Accuracy"},"color":{"field":"series","type":"nominal","title":null,"scale":{"domain":["a","p"],"range":["#161616","#ff7f0e"]},"legend":{"orient":"bottom-left","labelExpr":"datum.value == 'a' ? 'Actual' : 'Predicted (ridge LOO)'"}},"strokeDash":{"field":"series","type":"nominal","title":null,"scale":{"domain":["a","p"],"range":[[1,0],[3.6,1.6]]}}}},
{"title":"plural upper","transform":[{"filter":"datum.task=='plural upper'"},{"fold":["a","p"],"as":["series","acc"]}],"mark":"line","encoding":{"x":{"field":"x","type":"quantitative","scale":{"domain":[-5,1008]},"axis":{"format":"d"},"title":"Training tokens (B)"},"y":{"field":"acc","type":"quantitative","scale":{"domain":[-0.03,1.03]},"axis":{"format":".1f","tickCount":6},"title":"Accuracy"},"color":{"field":"series","type":"nominal","title":null,"scale":{"domain":["a","p"],"range":["#161616","#ff7f0e"]},"legend":{"orient":"top-left","labelExpr":"datum.value == 'a' ? 'Actual' : 'Predicted (ridge LOO)'"}},"strokeDash":{"field":"series","type":"nominal","title":null,"scale":{"domain":["a","p"],"range":[[1,0],[3.6,1.6]]}}}},
{"title":"translate eng fr first","transform":[{"filter":"datum.task=='translate eng fr first'"},{"fold":["a","p"],"as":["series","acc"]}],"mark":"line","encoding":{"x":{"field":"x","type":"quantitative","scale":{"domain":[-5,1008]},"axis":{"format":"d"},"title":"Training tokens (B)"},"y":{"field":"acc","type":"quantitative","scale":{"domain":[-0.03,1.03]},"axis":{"format":".1f","tickCount":6},"title":"Accuracy"},"color":{"field":"series","type":"nominal","title":null,"scale":{"domain":["a","p"],"range":["#161616","#ff7f0e"]},"legend":{"orient":"top-right","labelExpr":"datum.value == 'a' ? 'Actual' : 'Predicted (ridge LOO)'"}},"strokeDash":{"field":"series","type":"nominal","title":null,"scale":{"domain":["a","p"],"range":[[1,0],[3.6,1.6]]}}}},
{"title":"translate eng fr last","transform":[{"filter":"datum.task=='translate eng fr last'"},{"fold":["a","p"],"as":["series","acc"]}],"mark":"line","encoding":{"x":{"field":"x","type":"quantitative","scale":{"domain":[-5,1008]},"axis":{"format":"d"},"title":"Training tokens (B)"},"y":{"field":"acc","type":"quantitative","scale":{"domain":[-0.03,1.03]},"axis":{"format":".1f","tickCount":6},"title":"Accuracy"},"color":{"field":"series","type":"nominal","title":null,"scale":{"domain":["a","p"],"range":["#161616","#ff7f0e"]},"legend":{"orient":"top-right","labelExpr":"datum.value == 'a' ? 'Actual' : 'Predicted (ridge LOO)'"}},"strokeDash":{"field":"series","type":"nominal","title":null,"scale":{"domain":["a","p"],"range":[[1,0],[3.6,1.6]]}}}},
{"title":"translate eng fr lower","transform":[{"filter":"datum.task=='translate eng fr lower'"},{"fold":["a","p"],"as":["series","acc"]}],"mark":"line","encoding":{"x":{"field":"x","type":"quantitative","scale":{"domain":[-5,1008]},"axis":{"format":"d"},"title":"Training tokens (B)"},"y":{"field":"acc","type":"quantitative","scale":{"domain":[-0.03,1.03]},"axis":{"format":".1f","tickCount":6},"title":"Accuracy"},"color":{"field":"series","type":"nominal","title":null,"scale":{"domain":["a","p"],"range":["#161616","#ff7f0e"]},"legend":{"orient":"top-right","labelExpr":"datum.value == 'a' ? 'Actual' : 'Predicted (ridge LOO)'"}},"strokeDash":{"field":"series","type":"nominal","title":null,"scale":{"domain":["a","p"],"range":[[1,0],[3.6,1.6]]}}}},
{"title":"translate eng fr upper","transform":[{"filter":"datum.task=='translate eng fr upper'"},{"fold":["a","p"],"as":["series","acc"]}],"mark":"line","encoding":{"x":{"field":"x","type":"quantitative","scale":{"domain":[-5,1008]},"axis":{"format":"d"},"title":"Training tokens (B)"},"y":{"field":"acc","type":"quantitative","scale":{"domain":[-0.03,1.03]},"axis":{"format":".1f","tickCount":6},"title":"Accuracy"},"color":{"field":"series","type":"nominal","title":null,"scale":{"domain":["a","p"],"range":["#161616","#ff7f0e"]},"legend":{"orient":"top-right","labelExpr":"datum.value == 'a' ? 'Actual' : 'Predicted (ridge LOO)'"}},"strokeDash":{"field":"series","type":"nominal","title":null,"scale":{"domain":["a","p"],"range":[[1,0],[3.6,1.6]]}}}},
{"title":"translate eng sp first","transform":[{"filter":"datum.task=='translate eng sp first'"},{"fold":["a","p"],"as":["series","acc"]}],"mark":"line","encoding":{"x":{"field":"x","type":"quantitative","scale":{"domain":[-5,1008]},"axis":{"format":"d"},"title":"Training tokens (B)"},"y":{"field":"acc","type":"quantitative","scale":{"domain":[-0.03,1.03]},"axis":{"format":".1f","tickCount":6},"title":"Accuracy"},"color":{"field":"series","type":"nominal","title":null,"scale":{"domain":["a","p"],"range":["#161616","#ff7f0e"]},"legend":{"orient":"top-right","labelExpr":"datum.value == 'a' ? 'Actual' : 'Predicted (ridge LOO)'"}},"strokeDash":{"field":"series","type":"nominal","title":null,"scale":{"domain":["a","p"],"range":[[1,0],[3.6,1.6]]}}}},
{"title":"translate eng sp last","transform":[{"filter":"datum.task=='translate eng sp last'"},{"fold":["a","p"],"as":["series","acc"]}],"mark":"line","encoding":{"x":{"field":"x","type":"quantitative","scale":{"domain":[-5,1008]},"axis":{"format":"d"},"title":"Training tokens (B)"},"y":{"field":"acc","type":"quantitative","scale":{"domain":[-0.03,1.03]},"axis":{"format":".1f","tickCount":6},"title":"Accuracy"},"color":{"field":"series","type":"nominal","title":null,"scale":{"domain":["a","p"],"range":["#161616","#ff7f0e"]},"legend":{"orient":"top-right","labelExpr":"datum.value == 'a' ? 'Actual' : 'Predicted (ridge LOO)'"}},"strokeDash":{"field":"series","type":"nominal","title":null,"scale":{"domain":["a","p"],"range":[[1,0],[3.6,1.6]]}}}},
{"title":"translate eng sp lower","transform":[{"filter":"datum.task=='translate eng sp lower'"},{"fold":["a","p"],"as":["series","acc"]}],"mark":"line","encoding":{"x":{"field":"x","type":"quantitative","scale":{"domain":[-5,1008]},"axis":{"format":"d"},"title":"Training tokens (B)"},"y":{"field":"acc","type":"quantitative","scale":{"domain":[-0.03,1.03]},"axis":{"format":".1f","tickCount":6},"title":"Accuracy"},"color":{"field":"series","type":"nominal","title":null,"scale":{"domain":["a","p"],"range":["#161616","#ff7f0e"]},"legend":{"orient":"top-right","labelExpr":"datum.value == 'a' ? 'Actual' : 'Predicted (ridge LOO)'"}},"strokeDash":{"field":"series","type":"nominal","title":null,"scale":{"domain":["a","p"],"range":[[1,0],[3.6,1.6]]}}}},
{"title":"translate eng sp upper","transform":[{"filter":"datum.task=='translate eng sp upper'"},{"fold":["a","p"],"as":["series","acc"]}],"mark":"line","encoding":{"x":{"field":"x","type":"quantitative","scale":{"domain":[-5,1008]},"axis":{"format":"d"},"title":"Training tokens (B)"},"y":{"field":"acc","type":"quantitative","scale":{"domain":[-0.03,1.03]},"axis":{"format":".1f","tickCount":6},"title":"Accuracy"},"color":{"field":"series","type":"nominal","title":null,"scale":{"domain":["a","p"],"range":["#161616","#ff7f0e"]},"legend":{"orient":"top-right","labelExpr":"datum.value == 'a' ? 'Actual' : 'Predicted (ridge LOO)'"}},"strokeDash":{"field":"series","type":"nominal","title":null,"scale":{"domain":["a","p"],"range":[[1,0],[3.6,1.6]]}}}},
{"title":"translate fr eng first","transform":[{"filter":"datum.task=='translate fr eng first'"},{"fold":["a","p"],"as":["series","acc"]}],"mark":"line","encoding":{"x":{"field":"x","type":"quantitative","scale":{"domain":[-5,1008]},"axis":{"format":"d"},"title":"Training tokens (B)"},"y":{"field":"acc","type":"quantitative","scale":{"domain":[-0.03,1.03]},"axis":{"format":".1f","tickCount":6},"title":"Accuracy"},"color":{"field":"series","type":"nominal","title":null,"scale":{"domain":["a","p"],"range":["#161616","#ff7f0e"]},"legend":{"orient":"top-right","labelExpr":"datum.value == 'a' ? 'Actual' : 'Predicted (ridge LOO)'"}},"strokeDash":{"field":"series","type":"nominal","title":null,"scale":{"domain":["a","p"],"range":[[1,0],[3.6,1.6]]}}}},
{"title":"translate fr eng last","transform":[{"filter":"datum.task=='translate fr eng last'"},{"fold":["a","p"],"as":["series","acc"]}],"mark":"line","encoding":{"x":{"field":"x","type":"quantitative","scale":{"domain":[-5,1008]},"axis":{"format":"d"},"title":"Training tokens (B)"},"y":{"field":"acc","type":"quantitative","scale":{"domain":[-0.03,1.03]},"axis":{"format":".1f","tickCount":6},"title":"Accuracy"},"color":{"field":"series","type":"nominal","title":null,"scale":{"domain":["a","p"],"range":["#161616","#ff7f0e"]},"legend":{"orient":"top-right","labelExpr":"datum.value == 'a' ? 'Actual' : 'Predicted (ridge LOO)'"}},"strokeDash":{"field":"series","type":"nominal","title":null,"scale":{"domain":["a","p"],"range":[[1,0],[3.6,1.6]]}}}},
{"title":"translate fr eng lower","transform":[{"filter":"datum.task=='translate fr eng lower'"},{"fold":["a","p"],"as":["series","acc"]}],"mark":"line","encoding":{"x":{"field":"x","type":"quantitative","scale":{"domain":[-5,1008]},"axis":{"format":"d"},"title":"Training tokens (B)"},"y":{"field":"acc","type":"quantitative","scale":{"domain":[-0.03,1.03]},"axis":{"format":".1f","tickCount":6},"title":"Accuracy"},"color":{"field":"series","type":"nominal","title":null,"scale":{"domain":["a","p"],"range":["#161616","#ff7f0e"]},"legend":{"orient":"top-right","labelExpr":"datum.value == 'a' ? 'Actual' : 'Predicted (ridge LOO)'"}},"strokeDash":{"field":"series","type":"nominal","title":null,"scale":{"domain":["a","p"],"range":[[1,0],[3.6,1.6]]}}}},
{"title":"translate fr eng upper","transform":[{"filter":"datum.task=='translate fr eng upper'"},{"fold":["a","p"],"as":["series","acc"]}],"mark":"line","encoding":{"x":{"field":"x","type":"quantitative","scale":{"domain":[-5,1008]},"axis":{"format":"d"},"title":"Training tokens (B)"},"y":{"field":"acc","type":"quantitative","scale":{"domain":[-0.03,1.03]},"axis":{"format":".1f","tickCount":6},"title":"Accuracy"},"color":{"field":"series","type":"nominal","title":null,"scale":{"domain":["a","p"],"range":["#161616","#ff7f0e"]},"legend":{"orient":"top-right","labelExpr":"datum.value == 'a' ? 'Actual' : 'Predicted (ridge LOO)'"}},"strokeDash":{"field":"series","type":"nominal","title":null,"scale":{"domain":["a","p"],"range":[[1,0],[3.6,1.6]]}}}},
{"title":"translate sp eng first","transform":[{"filter":"datum.task=='translate sp eng first'"},{"fold":["a","p"],"as":["series","acc"]}],"mark":"line","encoding":{"x":{"field":"x","type":"quantitative","scale":{"domain":[-5,1008]},"axis":{"format":"d"},"title":"Training tokens (B)"},"y":{"field":"acc","type":"quantitative","scale":{"domain":[-0.03,1.03]},"axis":{"format":".1f","tickCount":6},"title":"Accuracy"},"color":{"field":"series","type":"nominal","title":null,"scale":{"domain":["a","p"],"range":["#161616","#ff7f0e"]},"legend":{"orient":"top-right","labelExpr":"datum.value == 'a' ? 'Actual' : 'Predicted (ridge LOO)'"}},"strokeDash":{"field":"series","type":"nominal","title":null,"scale":{"domain":["a","p"],"range":[[1,0],[3.6,1.6]]}}}},
{"title":"translate sp eng last","transform":[{"filter":"datum.task=='translate sp eng last'"},{"fold":["a","p"],"as":["series","acc"]}],"mark":"line","encoding":{"x":{"field":"x","type":"quantitative","scale":{"domain":[-5,1008]},"axis":{"format":"d"},"title":"Training tokens (B)"},"y":{"field":"acc","type":"quantitative","scale":{"domain":[-0.03,1.03]},"axis":{"format":".1f","tickCount":6},"title":"Accuracy"},"color":{"field":"series","type":"nominal","title":null,"scale":{"domain":["a","p"],"range":["#161616","#ff7f0e"]},"legend":{"orient":"top-right","labelExpr":"datum.value == 'a' ? 'Actual' : 'Predicted (ridge LOO)'"}},"strokeDash":{"field":"series","type":"nominal","title":null,"scale":{"domain":["a","p"],"range":[[1,0],[3.6,1.6]]}}}},
{"title":"translate sp eng lower","transform":[{"filter":"datum.task=='translate sp eng lower'"},{"fold":["a","p"],"as":["series","acc"]}],"mark":"line","encoding":{"x":{"field":"x","type":"quantitative","scale":{"domain":[-5,1008]},"axis":{"format":"d"},"title":"Training tokens (B)"},"y":{"field":"acc","type":"quantitative","scale":{"domain":[-0.03,1.03]},"axis":{"format":".1f","tickCount":6},"title":"Accuracy"},"color":{"field":"series","type":"nominal","title":null,"scale":{"domain":["a","p"],"range":["#161616","#ff7f0e"]},"legend":{"orient":"top-right","labelExpr":"datum.value == 'a' ? 'Actual' : 'Predicted (ridge LOO)'"}},"strokeDash":{"field":"series","type":"nominal","title":null,"scale":{"domain":["a","p"],"range":[[1,0],[3.6,1.6]]}}}},
{"title":"translate sp eng upper","transform":[{"filter":"datum.task=='translate sp eng upper'"},{"fold":["a","p"],"as":["series","acc"]}],"mark":"line","encoding":{"x":{"field":"x","type":"quantitative","scale":{"domain":[-5,1008]},"axis":{"format":"d"},"title":"Training tokens (B)"},"y":{"field":"acc","type":"quantitative","scale":{"domain":[-0.03,1.03]},"axis":{"format":".1f","tickCount":6},"title":"Accuracy"},"color":{"field":"series","type":"nominal","title":null,"scale":{"domain":["a","p"],"range":["#161616","#ff7f0e"]},"legend":{"orient":"top-right","labelExpr":"datum.value == 'a' ? 'Actual' : 'Predicted (ridge LOO)'"}},"strokeDash":{"field":"series","type":"nominal","title":null,"scale":{"domain":["a","p"],"range":[[1,0],[3.6,1.6]]}}}},
{"title":"upper first","transform":[{"filter":"datum.task=='upper first'"},{"fold":["a","p"],"as":["series","acc"]}],"mark":"line","encoding":{"x":{"field":"x","type":"quantitative","scale":{"domain":[-5,1008]},"axis":{"format":"d"},"title":"Training tokens (B)"},"y":{"field":"acc","type":"quantitative","scale":{"domain":[-0.03,1.03]},"axis":{"format":".1f","tickCount":6},"title":"Accuracy"},"color":{"field":"series","type":"nominal","title":null,"scale":{"domain":["a","p"],"range":["#161616","#ff7f0e"]},"legend":{"orient":"bottom-left","labelExpr":"datum.value == 'a' ? 'Actual' : 'Predicted (ridge LOO)'"}},"strokeDash":{"field":"series","type":"nominal","title":null,"scale":{"domain":["a","p"],"range":[[1,0],[3.6,1.6]]}}}},
{"title":"upper last","transform":[{"filter":"datum.task=='upper last'"},{"fold":["a","p"],"as":["series","acc"]}],"mark":"line","encoding":{"x":{"field":"x","type":"quantitative","scale":{"domain":[-5,1008]},"axis":{"format":"d"},"title":"Training tokens (B)"},"y":{"field":"acc","type":"quantitative","scale":{"domain":[-0.03,1.03]},"axis":{"format":".1f","tickCount":6},"title":"Accuracy"},"color":{"field":"series","type":"nominal","title":null,"scale":{"domain":["a","p"],"range":["#161616","#ff7f0e"]},"legend":{"orient":"top-right","labelExpr":"datum.value == 'a' ? 'Actual' : 'Predicted (ridge LOO)'"}},"strokeDash":{"field":"series","type":"nominal","title":null,"scale":{"domain":["a","p"],"range":[[1,0],[3.6,1.6]]}}}}
]}],
"config":{
"font":"DejaVu Sans",
"view":{"continuousWidth":187,"continuousHeight":132,"stroke":"#9a9a9a","strokeWidth":0.8},
"line":{"strokeWidth":1.25},
"axis":{"labelFontSize":5.3,"labelColor":"#333","titleFontSize":6.2,"titleFontWeight":"normal","titleColor":"#222","tickSize":2,"tickColor":"#666","tickWidth":0.6,"domain":false,"gridColor":"#ececec","gridWidth":0.5,"labelPadding":1.5,"titlePadding":2,"labelFlush":false,"labelOverlap":false},
"axisX":{"tickSize":1.5,"labelPadding":0.5,"titlePadding":1},
"legend":{"symbolType":"stroke","symbolSize":100,"symbolStrokeWidth":1.25,"clipHeight":5.8,"labelFontSize":5.3,"labelColor":"#222","labelOffset":4,"rowPadding":1.5,"padding":2.2,"offset":3.5,"fillColor":"rgba(255,255,255,0.8)","strokeColor":"#cfcfcf","cornerRadius":2},
"title":{"fontSize":6,"fontWeight":"normal","color":"#111","offset":4}
}
}
